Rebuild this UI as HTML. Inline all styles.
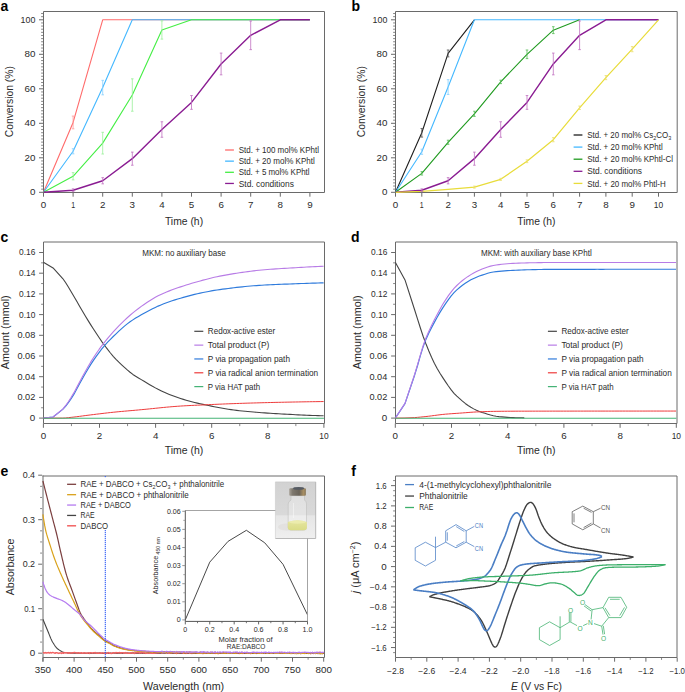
<!DOCTYPE html>
<html><head><meta charset="utf-8"><style>
html,body{margin:0;padding:0;background:#fff;}
svg{display:block;}
text{font-family:"Liberation Sans", sans-serif;}
</style></head><body>
<svg width="685" height="692" viewBox="0 0 685 692" font-family='"Liberation Sans", sans-serif'>
<rect width="685" height="692" fill="#fff"/>
<path d="M43.5,192.5 V11.5 H324.5 V192.5 H43.5" fill="none" stroke="#6a6a6a" stroke-width="1"/>
<polyline points="43.5,192.3 73.1,122.44 102.7,19.8 309.9,19.8" fill="none" stroke="#ff6b6b" stroke-width="1.1" stroke-linejoin="round" stroke-linecap="butt" />
<polyline points="43.5,192.3 73.1,151.25 102.7,87.59 132.3,19.8 309.9,19.8" fill="none" stroke="#44b8ff" stroke-width="1.1" stroke-linejoin="round" stroke-linecap="butt" />
<polyline points="43.5,192.3 73.1,176.26 102.7,143.14 132.3,95.01 161.9,29.98 191.5,19.8 309.9,19.8" fill="none" stroke="#44ee44" stroke-width="1.1" stroke-linejoin="round" stroke-linecap="butt" />
<polyline points="43.5,192.3 73.1,190.23 102.7,180.74 132.3,158.66 161.9,129.51 191.5,102.43 221.1,63.96 250.7,35.33 280.3,19.8 309.9,19.8" fill="none" stroke="#8a1c92" stroke-width="1.4" stroke-linejoin="round" stroke-linecap="butt" />
<line x1="73.1" y1="116.06" x2="73.1" y2="128.82" stroke="#ff9a9a" stroke-width="0.8" />
<line x1="71.8" y1="116.06" x2="74.4" y2="116.06" stroke="#ff9a9a" stroke-width="0.8" />
<line x1="71.8" y1="128.82" x2="74.4" y2="128.82" stroke="#ff9a9a" stroke-width="0.8" />
<line x1="73.1" y1="148.66" x2="73.1" y2="153.83" stroke="#88d0ff" stroke-width="0.8" />
<line x1="71.8" y1="148.66" x2="74.4" y2="148.66" stroke="#88d0ff" stroke-width="0.8" />
<line x1="71.8" y1="153.83" x2="74.4" y2="153.83" stroke="#88d0ff" stroke-width="0.8" />
<line x1="102.7" y1="80.35" x2="102.7" y2="94.84" stroke="#88d0ff" stroke-width="0.8" />
<line x1="101.4" y1="80.35" x2="104" y2="80.35" stroke="#88d0ff" stroke-width="0.8" />
<line x1="101.4" y1="94.84" x2="104" y2="94.84" stroke="#88d0ff" stroke-width="0.8" />
<line x1="73.1" y1="172.64" x2="73.1" y2="179.88" stroke="#99f099" stroke-width="0.8" />
<line x1="71.8" y1="172.64" x2="74.4" y2="172.64" stroke="#99f099" stroke-width="0.8" />
<line x1="71.8" y1="179.88" x2="74.4" y2="179.88" stroke="#99f099" stroke-width="0.8" />
<line x1="102.7" y1="132.27" x2="102.7" y2="154" stroke="#99f099" stroke-width="0.8" />
<line x1="101.4" y1="132.27" x2="104" y2="132.27" stroke="#99f099" stroke-width="0.8" />
<line x1="101.4" y1="154" x2="104" y2="154" stroke="#99f099" stroke-width="0.8" />
<line x1="132.3" y1="78.8" x2="132.3" y2="111.23" stroke="#99f099" stroke-width="0.8" />
<line x1="131" y1="78.8" x2="133.6" y2="78.8" stroke="#99f099" stroke-width="0.8" />
<line x1="131" y1="111.23" x2="133.6" y2="111.23" stroke="#99f099" stroke-width="0.8" />
<line x1="161.9" y1="20.84" x2="161.9" y2="39.12" stroke="#99f099" stroke-width="0.8" />
<line x1="160.6" y1="20.84" x2="163.2" y2="20.84" stroke="#99f099" stroke-width="0.8" />
<line x1="160.6" y1="39.12" x2="163.2" y2="39.12" stroke="#99f099" stroke-width="0.8" />
<line x1="73.1" y1="188.85" x2="73.1" y2="191.61" stroke="#c070c0" stroke-width="0.8" />
<line x1="71.8" y1="188.85" x2="74.4" y2="188.85" stroke="#c070c0" stroke-width="0.8" />
<line x1="71.8" y1="191.61" x2="74.4" y2="191.61" stroke="#c070c0" stroke-width="0.8" />
<line x1="102.7" y1="177.64" x2="102.7" y2="183.85" stroke="#c070c0" stroke-width="0.8" />
<line x1="101.4" y1="177.64" x2="104" y2="177.64" stroke="#c070c0" stroke-width="0.8" />
<line x1="101.4" y1="183.85" x2="104" y2="183.85" stroke="#c070c0" stroke-width="0.8" />
<line x1="132.3" y1="152.11" x2="132.3" y2="165.22" stroke="#c070c0" stroke-width="0.8" />
<line x1="131" y1="152.11" x2="133.6" y2="152.11" stroke="#c070c0" stroke-width="0.8" />
<line x1="131" y1="165.22" x2="133.6" y2="165.22" stroke="#c070c0" stroke-width="0.8" />
<line x1="161.9" y1="121.75" x2="161.9" y2="137.27" stroke="#c070c0" stroke-width="0.8" />
<line x1="160.6" y1="121.75" x2="163.2" y2="121.75" stroke="#c070c0" stroke-width="0.8" />
<line x1="160.6" y1="137.27" x2="163.2" y2="137.27" stroke="#c070c0" stroke-width="0.8" />
<line x1="191.5" y1="95.53" x2="191.5" y2="109.33" stroke="#c070c0" stroke-width="0.8" />
<line x1="190.2" y1="95.53" x2="192.8" y2="95.53" stroke="#c070c0" stroke-width="0.8" />
<line x1="190.2" y1="109.33" x2="192.8" y2="109.33" stroke="#c070c0" stroke-width="0.8" />
<line x1="221.1" y1="53.09" x2="221.1" y2="74.83" stroke="#c070c0" stroke-width="0.8" />
<line x1="219.8" y1="53.09" x2="222.4" y2="53.09" stroke="#c070c0" stroke-width="0.8" />
<line x1="219.8" y1="74.83" x2="222.4" y2="74.83" stroke="#c070c0" stroke-width="0.8" />
<line x1="250.7" y1="21.01" x2="250.7" y2="49.64" stroke="#c070c0" stroke-width="0.8" />
<line x1="249.4" y1="21.01" x2="252" y2="21.01" stroke="#c070c0" stroke-width="0.8" />
<line x1="249.4" y1="49.64" x2="252" y2="49.64" stroke="#c070c0" stroke-width="0.8" />
<line x1="39" y1="192.3" x2="43.5" y2="192.3" stroke="#6a6a6a" stroke-width="1" />
<text x="35.4" y="195.25" font-size="8.2" text-anchor="end" fill="#2b2b2b" textLength="5.45" lengthAdjust="spacingAndGlyphs">0</text>
<line x1="39" y1="157.8" x2="43.5" y2="157.8" stroke="#6a6a6a" stroke-width="1" />
<text x="35.4" y="160.75" font-size="8.2" text-anchor="end" fill="#2b2b2b" textLength="10.9" lengthAdjust="spacingAndGlyphs">20</text>
<line x1="39" y1="123.3" x2="43.5" y2="123.3" stroke="#6a6a6a" stroke-width="1" />
<text x="35.4" y="126.25" font-size="8.2" text-anchor="end" fill="#2b2b2b" textLength="10.9" lengthAdjust="spacingAndGlyphs">40</text>
<line x1="39" y1="88.8" x2="43.5" y2="88.8" stroke="#6a6a6a" stroke-width="1" />
<text x="35.4" y="91.75" font-size="8.2" text-anchor="end" fill="#2b2b2b" textLength="10.9" lengthAdjust="spacingAndGlyphs">60</text>
<line x1="39" y1="54.3" x2="43.5" y2="54.3" stroke="#6a6a6a" stroke-width="1" />
<text x="35.4" y="57.25" font-size="8.2" text-anchor="end" fill="#2b2b2b" textLength="10.9" lengthAdjust="spacingAndGlyphs">80</text>
<line x1="39" y1="19.8" x2="43.5" y2="19.8" stroke="#6a6a6a" stroke-width="1" />
<text x="35.4" y="22.75" font-size="8.2" text-anchor="end" fill="#2b2b2b" textLength="14.8" lengthAdjust="spacingAndGlyphs">100</text>
<line x1="41.1" y1="189.16" x2="43.5" y2="189.16" stroke="#6a6a6a" stroke-width="0.8" />
<line x1="41.1" y1="186.03" x2="43.5" y2="186.03" stroke="#6a6a6a" stroke-width="0.8" />
<line x1="41.1" y1="182.89" x2="43.5" y2="182.89" stroke="#6a6a6a" stroke-width="0.8" />
<line x1="41.1" y1="179.75" x2="43.5" y2="179.75" stroke="#6a6a6a" stroke-width="0.8" />
<line x1="41.1" y1="176.62" x2="43.5" y2="176.62" stroke="#6a6a6a" stroke-width="0.8" />
<line x1="41.1" y1="173.48" x2="43.5" y2="173.48" stroke="#6a6a6a" stroke-width="0.8" />
<line x1="41.1" y1="170.35" x2="43.5" y2="170.35" stroke="#6a6a6a" stroke-width="0.8" />
<line x1="41.1" y1="167.21" x2="43.5" y2="167.21" stroke="#6a6a6a" stroke-width="0.8" />
<line x1="41.1" y1="164.07" x2="43.5" y2="164.07" stroke="#6a6a6a" stroke-width="0.8" />
<line x1="41.1" y1="160.94" x2="43.5" y2="160.94" stroke="#6a6a6a" stroke-width="0.8" />
<line x1="41.1" y1="154.66" x2="43.5" y2="154.66" stroke="#6a6a6a" stroke-width="0.8" />
<line x1="41.1" y1="151.53" x2="43.5" y2="151.53" stroke="#6a6a6a" stroke-width="0.8" />
<line x1="41.1" y1="148.39" x2="43.5" y2="148.39" stroke="#6a6a6a" stroke-width="0.8" />
<line x1="41.1" y1="145.25" x2="43.5" y2="145.25" stroke="#6a6a6a" stroke-width="0.8" />
<line x1="41.1" y1="142.12" x2="43.5" y2="142.12" stroke="#6a6a6a" stroke-width="0.8" />
<line x1="41.1" y1="138.98" x2="43.5" y2="138.98" stroke="#6a6a6a" stroke-width="0.8" />
<line x1="41.1" y1="135.85" x2="43.5" y2="135.85" stroke="#6a6a6a" stroke-width="0.8" />
<line x1="41.1" y1="132.71" x2="43.5" y2="132.71" stroke="#6a6a6a" stroke-width="0.8" />
<line x1="41.1" y1="129.57" x2="43.5" y2="129.57" stroke="#6a6a6a" stroke-width="0.8" />
<line x1="41.1" y1="126.44" x2="43.5" y2="126.44" stroke="#6a6a6a" stroke-width="0.8" />
<line x1="41.1" y1="120.16" x2="43.5" y2="120.16" stroke="#6a6a6a" stroke-width="0.8" />
<line x1="41.1" y1="117.03" x2="43.5" y2="117.03" stroke="#6a6a6a" stroke-width="0.8" />
<line x1="41.1" y1="113.89" x2="43.5" y2="113.89" stroke="#6a6a6a" stroke-width="0.8" />
<line x1="41.1" y1="110.75" x2="43.5" y2="110.75" stroke="#6a6a6a" stroke-width="0.8" />
<line x1="41.1" y1="107.62" x2="43.5" y2="107.62" stroke="#6a6a6a" stroke-width="0.8" />
<line x1="41.1" y1="104.48" x2="43.5" y2="104.48" stroke="#6a6a6a" stroke-width="0.8" />
<line x1="41.1" y1="101.35" x2="43.5" y2="101.35" stroke="#6a6a6a" stroke-width="0.8" />
<line x1="41.1" y1="98.21" x2="43.5" y2="98.21" stroke="#6a6a6a" stroke-width="0.8" />
<line x1="41.1" y1="95.07" x2="43.5" y2="95.07" stroke="#6a6a6a" stroke-width="0.8" />
<line x1="41.1" y1="91.94" x2="43.5" y2="91.94" stroke="#6a6a6a" stroke-width="0.8" />
<line x1="41.1" y1="85.66" x2="43.5" y2="85.66" stroke="#6a6a6a" stroke-width="0.8" />
<line x1="41.1" y1="82.53" x2="43.5" y2="82.53" stroke="#6a6a6a" stroke-width="0.8" />
<line x1="41.1" y1="79.39" x2="43.5" y2="79.39" stroke="#6a6a6a" stroke-width="0.8" />
<line x1="41.1" y1="76.25" x2="43.5" y2="76.25" stroke="#6a6a6a" stroke-width="0.8" />
<line x1="41.1" y1="73.12" x2="43.5" y2="73.12" stroke="#6a6a6a" stroke-width="0.8" />
<line x1="41.1" y1="69.98" x2="43.5" y2="69.98" stroke="#6a6a6a" stroke-width="0.8" />
<line x1="41.1" y1="66.85" x2="43.5" y2="66.85" stroke="#6a6a6a" stroke-width="0.8" />
<line x1="41.1" y1="63.71" x2="43.5" y2="63.71" stroke="#6a6a6a" stroke-width="0.8" />
<line x1="41.1" y1="60.57" x2="43.5" y2="60.57" stroke="#6a6a6a" stroke-width="0.8" />
<line x1="41.1" y1="57.44" x2="43.5" y2="57.44" stroke="#6a6a6a" stroke-width="0.8" />
<line x1="41.1" y1="51.16" x2="43.5" y2="51.16" stroke="#6a6a6a" stroke-width="0.8" />
<line x1="41.1" y1="48.03" x2="43.5" y2="48.03" stroke="#6a6a6a" stroke-width="0.8" />
<line x1="41.1" y1="44.89" x2="43.5" y2="44.89" stroke="#6a6a6a" stroke-width="0.8" />
<line x1="41.1" y1="41.75" x2="43.5" y2="41.75" stroke="#6a6a6a" stroke-width="0.8" />
<line x1="41.1" y1="38.62" x2="43.5" y2="38.62" stroke="#6a6a6a" stroke-width="0.8" />
<line x1="41.1" y1="35.48" x2="43.5" y2="35.48" stroke="#6a6a6a" stroke-width="0.8" />
<line x1="41.1" y1="32.35" x2="43.5" y2="32.35" stroke="#6a6a6a" stroke-width="0.8" />
<line x1="41.1" y1="29.21" x2="43.5" y2="29.21" stroke="#6a6a6a" stroke-width="0.8" />
<line x1="41.1" y1="26.07" x2="43.5" y2="26.07" stroke="#6a6a6a" stroke-width="0.8" />
<line x1="41.1" y1="22.94" x2="43.5" y2="22.94" stroke="#6a6a6a" stroke-width="0.8" />
<line x1="41.1" y1="16.66" x2="43.5" y2="16.66" stroke="#6a6a6a" stroke-width="0.8" />
<line x1="41.1" y1="13.53" x2="43.5" y2="13.53" stroke="#6a6a6a" stroke-width="0.8" />
<line x1="43.5" y1="192.5" x2="43.5" y2="196.7" stroke="#6a6a6a" stroke-width="1" />
<text x="43.5" y="208.4" font-size="8.2" text-anchor="middle" fill="#2b2b2b" textLength="5.45" lengthAdjust="spacingAndGlyphs">0</text>
<line x1="73.1" y1="192.5" x2="73.1" y2="196.7" stroke="#6a6a6a" stroke-width="1" />
<text x="73.1" y="208.4" font-size="8.2" text-anchor="middle" fill="#2b2b2b" textLength="3.9" lengthAdjust="spacingAndGlyphs">1</text>
<line x1="102.7" y1="192.5" x2="102.7" y2="196.7" stroke="#6a6a6a" stroke-width="1" />
<text x="102.7" y="208.4" font-size="8.2" text-anchor="middle" fill="#2b2b2b" textLength="5.45" lengthAdjust="spacingAndGlyphs">2</text>
<line x1="132.3" y1="192.5" x2="132.3" y2="196.7" stroke="#6a6a6a" stroke-width="1" />
<text x="132.3" y="208.4" font-size="8.2" text-anchor="middle" fill="#2b2b2b" textLength="5.45" lengthAdjust="spacingAndGlyphs">3</text>
<line x1="161.9" y1="192.5" x2="161.9" y2="196.7" stroke="#6a6a6a" stroke-width="1" />
<text x="161.9" y="208.4" font-size="8.2" text-anchor="middle" fill="#2b2b2b" textLength="5.45" lengthAdjust="spacingAndGlyphs">4</text>
<line x1="191.5" y1="192.5" x2="191.5" y2="196.7" stroke="#6a6a6a" stroke-width="1" />
<text x="191.5" y="208.4" font-size="8.2" text-anchor="middle" fill="#2b2b2b" textLength="5.45" lengthAdjust="spacingAndGlyphs">5</text>
<line x1="221.1" y1="192.5" x2="221.1" y2="196.7" stroke="#6a6a6a" stroke-width="1" />
<text x="221.1" y="208.4" font-size="8.2" text-anchor="middle" fill="#2b2b2b" textLength="5.45" lengthAdjust="spacingAndGlyphs">6</text>
<line x1="250.7" y1="192.5" x2="250.7" y2="196.7" stroke="#6a6a6a" stroke-width="1" />
<text x="250.7" y="208.4" font-size="8.2" text-anchor="middle" fill="#2b2b2b" textLength="5.45" lengthAdjust="spacingAndGlyphs">7</text>
<line x1="280.3" y1="192.5" x2="280.3" y2="196.7" stroke="#6a6a6a" stroke-width="1" />
<text x="280.3" y="208.4" font-size="8.2" text-anchor="middle" fill="#2b2b2b" textLength="5.45" lengthAdjust="spacingAndGlyphs">8</text>
<line x1="309.9" y1="192.5" x2="309.9" y2="196.7" stroke="#6a6a6a" stroke-width="1" />
<text x="309.9" y="208.4" font-size="8.2" text-anchor="middle" fill="#2b2b2b" textLength="5.45" lengthAdjust="spacingAndGlyphs">9</text>
<text x="184" y="225" font-size="10.3" text-anchor="middle" fill="#2b2b2b" textLength="38.2" lengthAdjust="spacingAndGlyphs">Time (h)</text>
<text transform="translate(12.7,101.7) rotate(-90)" font-size="10.3" text-anchor="middle" fill="#2b2b2b" textLength="71.2" lengthAdjust="spacingAndGlyphs">Conversion (%)</text>
<line x1="225.1" y1="150" x2="233.9" y2="150" stroke="#ff6b6b" stroke-width="1.3" />
<text x="238.7" y="153.1" font-size="8.7" text-anchor="start" fill="#2b2b2b" textLength="80.3" lengthAdjust="spacingAndGlyphs">Std. + 100 mol% KPhtl</text>
<line x1="225.1" y1="161.15" x2="233.9" y2="161.15" stroke="#44b8ff" stroke-width="1.3" />
<text x="238.7" y="164.25" font-size="8.7" text-anchor="start" fill="#2b2b2b" textLength="76.1" lengthAdjust="spacingAndGlyphs">Std. + 20 mol% KPhtl</text>
<line x1="225.1" y1="172.3" x2="233.9" y2="172.3" stroke="#44ee44" stroke-width="1.3" />
<text x="238.7" y="175.4" font-size="8.7" text-anchor="start" fill="#2b2b2b" textLength="70.9" lengthAdjust="spacingAndGlyphs">Std. + 5 mol% KPhtl</text>
<line x1="225.1" y1="183.45" x2="233.9" y2="183.45" stroke="#8a1c92" stroke-width="1.3" />
<text x="238.7" y="186.55" font-size="8.7" text-anchor="start" fill="#2b2b2b" textLength="55.2" lengthAdjust="spacingAndGlyphs">Std. conditions</text>
<text x="0.5" y="11" font-size="14" text-anchor="start" fill="#000" font-weight="bold" >a</text>
<path d="M395.5,192.5 V11.5 H677.2 V192.5 H395.5" fill="none" stroke="#6a6a6a" stroke-width="1"/>
<polyline points="395.5,192.3 421.8,132.79 448.1,53.44 474.4,19.8" fill="none" stroke="#1e1e1e" stroke-width="1.1" stroke-linejoin="round" stroke-linecap="butt" />
<polyline points="395.5,192.3 421.8,151.76 448.1,87.08 474.4,19.8 658.5,19.8" fill="none" stroke="#44b8ff" stroke-width="1.1" stroke-linejoin="round" stroke-linecap="butt" />
<polyline points="395.5,192.3 421.8,173.33 448.1,142.28 474.4,113.81 500.7,81.9 527,54.3 553.3,30.15 579.6,19.8" fill="none" stroke="#1f9a1f" stroke-width="1.1" stroke-linejoin="round" stroke-linecap="butt" />
<polyline points="395.5,192.3 421.8,190.23 448.1,180.74 474.4,158.66 500.7,129.51 527,102.43 553.3,63.96 579.6,35.33 605.9,19.8 658.5,19.8" fill="none" stroke="#8a1c92" stroke-width="1.4" stroke-linejoin="round" stroke-linecap="butt" />
<polyline points="395.5,192.3 421.8,191.44 448.1,189.37 474.4,187.12 500.7,179.36 527,161.25 553.3,139.69 579.6,107.78 605.9,77.59 632.2,49.12 658.5,19.8" fill="none" stroke="#e8dc3a" stroke-width="1.2" stroke-linejoin="round" stroke-linecap="butt" />
<line x1="421.8" y1="128.48" x2="421.8" y2="137.1" stroke="#555" stroke-width="0.8" />
<line x1="420.5" y1="128.48" x2="423.1" y2="128.48" stroke="#555" stroke-width="0.8" />
<line x1="420.5" y1="137.1" x2="423.1" y2="137.1" stroke="#555" stroke-width="0.8" />
<line x1="448.1" y1="49.99" x2="448.1" y2="56.89" stroke="#555" stroke-width="0.8" />
<line x1="446.8" y1="49.99" x2="449.4" y2="49.99" stroke="#555" stroke-width="0.8" />
<line x1="446.8" y1="56.89" x2="449.4" y2="56.89" stroke="#555" stroke-width="0.8" />
<line x1="421.8" y1="149.18" x2="421.8" y2="154.35" stroke="#88d0ff" stroke-width="0.8" />
<line x1="420.5" y1="149.18" x2="423.1" y2="149.18" stroke="#88d0ff" stroke-width="0.8" />
<line x1="420.5" y1="154.35" x2="423.1" y2="154.35" stroke="#88d0ff" stroke-width="0.8" />
<line x1="448.1" y1="79.66" x2="448.1" y2="94.49" stroke="#88d0ff" stroke-width="0.8" />
<line x1="446.8" y1="79.66" x2="449.4" y2="79.66" stroke="#88d0ff" stroke-width="0.8" />
<line x1="446.8" y1="94.49" x2="449.4" y2="94.49" stroke="#88d0ff" stroke-width="0.8" />
<line x1="421.8" y1="171.6" x2="421.8" y2="175.05" stroke="#55bb55" stroke-width="0.8" />
<line x1="420.5" y1="171.6" x2="423.1" y2="171.6" stroke="#55bb55" stroke-width="0.8" />
<line x1="420.5" y1="175.05" x2="423.1" y2="175.05" stroke="#55bb55" stroke-width="0.8" />
<line x1="448.1" y1="140.21" x2="448.1" y2="144.34" stroke="#55bb55" stroke-width="0.8" />
<line x1="446.8" y1="140.21" x2="449.4" y2="140.21" stroke="#55bb55" stroke-width="0.8" />
<line x1="446.8" y1="144.34" x2="449.4" y2="144.34" stroke="#55bb55" stroke-width="0.8" />
<line x1="474.4" y1="111.23" x2="474.4" y2="116.4" stroke="#55bb55" stroke-width="0.8" />
<line x1="473.1" y1="111.23" x2="475.7" y2="111.23" stroke="#55bb55" stroke-width="0.8" />
<line x1="473.1" y1="116.4" x2="475.7" y2="116.4" stroke="#55bb55" stroke-width="0.8" />
<line x1="500.7" y1="80.18" x2="500.7" y2="83.62" stroke="#55bb55" stroke-width="0.8" />
<line x1="499.4" y1="80.18" x2="502" y2="80.18" stroke="#55bb55" stroke-width="0.8" />
<line x1="499.4" y1="83.62" x2="502" y2="83.62" stroke="#55bb55" stroke-width="0.8" />
<line x1="527" y1="49.99" x2="527" y2="58.61" stroke="#55bb55" stroke-width="0.8" />
<line x1="525.7" y1="49.99" x2="528.3" y2="49.99" stroke="#55bb55" stroke-width="0.8" />
<line x1="525.7" y1="58.61" x2="528.3" y2="58.61" stroke="#55bb55" stroke-width="0.8" />
<line x1="553.3" y1="26.7" x2="553.3" y2="33.6" stroke="#55bb55" stroke-width="0.8" />
<line x1="552" y1="26.7" x2="554.6" y2="26.7" stroke="#55bb55" stroke-width="0.8" />
<line x1="552" y1="33.6" x2="554.6" y2="33.6" stroke="#55bb55" stroke-width="0.8" />
<line x1="421.8" y1="188.85" x2="421.8" y2="191.61" stroke="#c070c0" stroke-width="0.8" />
<line x1="420.5" y1="188.85" x2="423.1" y2="188.85" stroke="#c070c0" stroke-width="0.8" />
<line x1="420.5" y1="191.61" x2="423.1" y2="191.61" stroke="#c070c0" stroke-width="0.8" />
<line x1="448.1" y1="177.64" x2="448.1" y2="183.85" stroke="#c070c0" stroke-width="0.8" />
<line x1="446.8" y1="177.64" x2="449.4" y2="177.64" stroke="#c070c0" stroke-width="0.8" />
<line x1="446.8" y1="183.85" x2="449.4" y2="183.85" stroke="#c070c0" stroke-width="0.8" />
<line x1="474.4" y1="152.11" x2="474.4" y2="165.22" stroke="#c070c0" stroke-width="0.8" />
<line x1="473.1" y1="152.11" x2="475.7" y2="152.11" stroke="#c070c0" stroke-width="0.8" />
<line x1="473.1" y1="165.22" x2="475.7" y2="165.22" stroke="#c070c0" stroke-width="0.8" />
<line x1="500.7" y1="121.75" x2="500.7" y2="137.27" stroke="#c070c0" stroke-width="0.8" />
<line x1="499.4" y1="121.75" x2="502" y2="121.75" stroke="#c070c0" stroke-width="0.8" />
<line x1="499.4" y1="137.27" x2="502" y2="137.27" stroke="#c070c0" stroke-width="0.8" />
<line x1="527" y1="95.53" x2="527" y2="109.33" stroke="#c070c0" stroke-width="0.8" />
<line x1="525.7" y1="95.53" x2="528.3" y2="95.53" stroke="#c070c0" stroke-width="0.8" />
<line x1="525.7" y1="109.33" x2="528.3" y2="109.33" stroke="#c070c0" stroke-width="0.8" />
<line x1="553.3" y1="53.09" x2="553.3" y2="74.83" stroke="#c070c0" stroke-width="0.8" />
<line x1="552" y1="53.09" x2="554.6" y2="53.09" stroke="#c070c0" stroke-width="0.8" />
<line x1="552" y1="74.83" x2="554.6" y2="74.83" stroke="#c070c0" stroke-width="0.8" />
<line x1="579.6" y1="21.01" x2="579.6" y2="49.64" stroke="#c070c0" stroke-width="0.8" />
<line x1="578.3" y1="21.01" x2="580.9" y2="21.01" stroke="#c070c0" stroke-width="0.8" />
<line x1="578.3" y1="49.64" x2="580.9" y2="49.64" stroke="#c070c0" stroke-width="0.8" />
<line x1="474.4" y1="186.09" x2="474.4" y2="188.16" stroke="#ece070" stroke-width="0.8" />
<line x1="473.1" y1="186.09" x2="475.7" y2="186.09" stroke="#ece070" stroke-width="0.8" />
<line x1="473.1" y1="188.16" x2="475.7" y2="188.16" stroke="#ece070" stroke-width="0.8" />
<line x1="500.7" y1="178.33" x2="500.7" y2="180.4" stroke="#ece070" stroke-width="0.8" />
<line x1="499.4" y1="178.33" x2="502" y2="178.33" stroke="#ece070" stroke-width="0.8" />
<line x1="499.4" y1="180.4" x2="502" y2="180.4" stroke="#ece070" stroke-width="0.8" />
<line x1="527" y1="159.87" x2="527" y2="162.63" stroke="#ece070" stroke-width="0.8" />
<line x1="525.7" y1="159.87" x2="528.3" y2="159.87" stroke="#ece070" stroke-width="0.8" />
<line x1="525.7" y1="162.63" x2="528.3" y2="162.63" stroke="#ece070" stroke-width="0.8" />
<line x1="553.3" y1="137.62" x2="553.3" y2="141.76" stroke="#ece070" stroke-width="0.8" />
<line x1="552" y1="137.62" x2="554.6" y2="137.62" stroke="#ece070" stroke-width="0.8" />
<line x1="552" y1="141.76" x2="554.6" y2="141.76" stroke="#ece070" stroke-width="0.8" />
<line x1="579.6" y1="106.05" x2="579.6" y2="109.5" stroke="#ece070" stroke-width="0.8" />
<line x1="578.3" y1="106.05" x2="580.9" y2="106.05" stroke="#ece070" stroke-width="0.8" />
<line x1="578.3" y1="109.5" x2="580.9" y2="109.5" stroke="#ece070" stroke-width="0.8" />
<line x1="605.9" y1="75.52" x2="605.9" y2="79.66" stroke="#ece070" stroke-width="0.8" />
<line x1="604.6" y1="75.52" x2="607.2" y2="75.52" stroke="#ece070" stroke-width="0.8" />
<line x1="604.6" y1="79.66" x2="607.2" y2="79.66" stroke="#ece070" stroke-width="0.8" />
<line x1="632.2" y1="46.54" x2="632.2" y2="51.71" stroke="#ece070" stroke-width="0.8" />
<line x1="630.9" y1="46.54" x2="633.5" y2="46.54" stroke="#ece070" stroke-width="0.8" />
<line x1="630.9" y1="51.71" x2="633.5" y2="51.71" stroke="#ece070" stroke-width="0.8" />
<line x1="391" y1="192.3" x2="395.5" y2="192.3" stroke="#6a6a6a" stroke-width="1" />
<text x="387.4" y="195.25" font-size="8.2" text-anchor="end" fill="#2b2b2b" textLength="5.45" lengthAdjust="spacingAndGlyphs">0</text>
<line x1="391" y1="157.8" x2="395.5" y2="157.8" stroke="#6a6a6a" stroke-width="1" />
<text x="387.4" y="160.75" font-size="8.2" text-anchor="end" fill="#2b2b2b" textLength="10.9" lengthAdjust="spacingAndGlyphs">20</text>
<line x1="391" y1="123.3" x2="395.5" y2="123.3" stroke="#6a6a6a" stroke-width="1" />
<text x="387.4" y="126.25" font-size="8.2" text-anchor="end" fill="#2b2b2b" textLength="10.9" lengthAdjust="spacingAndGlyphs">40</text>
<line x1="391" y1="88.8" x2="395.5" y2="88.8" stroke="#6a6a6a" stroke-width="1" />
<text x="387.4" y="91.75" font-size="8.2" text-anchor="end" fill="#2b2b2b" textLength="10.9" lengthAdjust="spacingAndGlyphs">60</text>
<line x1="391" y1="54.3" x2="395.5" y2="54.3" stroke="#6a6a6a" stroke-width="1" />
<text x="387.4" y="57.25" font-size="8.2" text-anchor="end" fill="#2b2b2b" textLength="10.9" lengthAdjust="spacingAndGlyphs">80</text>
<line x1="391" y1="19.8" x2="395.5" y2="19.8" stroke="#6a6a6a" stroke-width="1" />
<text x="387.4" y="22.75" font-size="8.2" text-anchor="end" fill="#2b2b2b" textLength="14.8" lengthAdjust="spacingAndGlyphs">100</text>
<line x1="393.1" y1="189.16" x2="395.5" y2="189.16" stroke="#6a6a6a" stroke-width="0.8" />
<line x1="393.1" y1="186.03" x2="395.5" y2="186.03" stroke="#6a6a6a" stroke-width="0.8" />
<line x1="393.1" y1="182.89" x2="395.5" y2="182.89" stroke="#6a6a6a" stroke-width="0.8" />
<line x1="393.1" y1="179.75" x2="395.5" y2="179.75" stroke="#6a6a6a" stroke-width="0.8" />
<line x1="393.1" y1="176.62" x2="395.5" y2="176.62" stroke="#6a6a6a" stroke-width="0.8" />
<line x1="393.1" y1="173.48" x2="395.5" y2="173.48" stroke="#6a6a6a" stroke-width="0.8" />
<line x1="393.1" y1="170.35" x2="395.5" y2="170.35" stroke="#6a6a6a" stroke-width="0.8" />
<line x1="393.1" y1="167.21" x2="395.5" y2="167.21" stroke="#6a6a6a" stroke-width="0.8" />
<line x1="393.1" y1="164.07" x2="395.5" y2="164.07" stroke="#6a6a6a" stroke-width="0.8" />
<line x1="393.1" y1="160.94" x2="395.5" y2="160.94" stroke="#6a6a6a" stroke-width="0.8" />
<line x1="393.1" y1="154.66" x2="395.5" y2="154.66" stroke="#6a6a6a" stroke-width="0.8" />
<line x1="393.1" y1="151.53" x2="395.5" y2="151.53" stroke="#6a6a6a" stroke-width="0.8" />
<line x1="393.1" y1="148.39" x2="395.5" y2="148.39" stroke="#6a6a6a" stroke-width="0.8" />
<line x1="393.1" y1="145.25" x2="395.5" y2="145.25" stroke="#6a6a6a" stroke-width="0.8" />
<line x1="393.1" y1="142.12" x2="395.5" y2="142.12" stroke="#6a6a6a" stroke-width="0.8" />
<line x1="393.1" y1="138.98" x2="395.5" y2="138.98" stroke="#6a6a6a" stroke-width="0.8" />
<line x1="393.1" y1="135.85" x2="395.5" y2="135.85" stroke="#6a6a6a" stroke-width="0.8" />
<line x1="393.1" y1="132.71" x2="395.5" y2="132.71" stroke="#6a6a6a" stroke-width="0.8" />
<line x1="393.1" y1="129.57" x2="395.5" y2="129.57" stroke="#6a6a6a" stroke-width="0.8" />
<line x1="393.1" y1="126.44" x2="395.5" y2="126.44" stroke="#6a6a6a" stroke-width="0.8" />
<line x1="393.1" y1="120.16" x2="395.5" y2="120.16" stroke="#6a6a6a" stroke-width="0.8" />
<line x1="393.1" y1="117.03" x2="395.5" y2="117.03" stroke="#6a6a6a" stroke-width="0.8" />
<line x1="393.1" y1="113.89" x2="395.5" y2="113.89" stroke="#6a6a6a" stroke-width="0.8" />
<line x1="393.1" y1="110.75" x2="395.5" y2="110.75" stroke="#6a6a6a" stroke-width="0.8" />
<line x1="393.1" y1="107.62" x2="395.5" y2="107.62" stroke="#6a6a6a" stroke-width="0.8" />
<line x1="393.1" y1="104.48" x2="395.5" y2="104.48" stroke="#6a6a6a" stroke-width="0.8" />
<line x1="393.1" y1="101.35" x2="395.5" y2="101.35" stroke="#6a6a6a" stroke-width="0.8" />
<line x1="393.1" y1="98.21" x2="395.5" y2="98.21" stroke="#6a6a6a" stroke-width="0.8" />
<line x1="393.1" y1="95.07" x2="395.5" y2="95.07" stroke="#6a6a6a" stroke-width="0.8" />
<line x1="393.1" y1="91.94" x2="395.5" y2="91.94" stroke="#6a6a6a" stroke-width="0.8" />
<line x1="393.1" y1="85.66" x2="395.5" y2="85.66" stroke="#6a6a6a" stroke-width="0.8" />
<line x1="393.1" y1="82.53" x2="395.5" y2="82.53" stroke="#6a6a6a" stroke-width="0.8" />
<line x1="393.1" y1="79.39" x2="395.5" y2="79.39" stroke="#6a6a6a" stroke-width="0.8" />
<line x1="393.1" y1="76.25" x2="395.5" y2="76.25" stroke="#6a6a6a" stroke-width="0.8" />
<line x1="393.1" y1="73.12" x2="395.5" y2="73.12" stroke="#6a6a6a" stroke-width="0.8" />
<line x1="393.1" y1="69.98" x2="395.5" y2="69.98" stroke="#6a6a6a" stroke-width="0.8" />
<line x1="393.1" y1="66.85" x2="395.5" y2="66.85" stroke="#6a6a6a" stroke-width="0.8" />
<line x1="393.1" y1="63.71" x2="395.5" y2="63.71" stroke="#6a6a6a" stroke-width="0.8" />
<line x1="393.1" y1="60.57" x2="395.5" y2="60.57" stroke="#6a6a6a" stroke-width="0.8" />
<line x1="393.1" y1="57.44" x2="395.5" y2="57.44" stroke="#6a6a6a" stroke-width="0.8" />
<line x1="393.1" y1="51.16" x2="395.5" y2="51.16" stroke="#6a6a6a" stroke-width="0.8" />
<line x1="393.1" y1="48.03" x2="395.5" y2="48.03" stroke="#6a6a6a" stroke-width="0.8" />
<line x1="393.1" y1="44.89" x2="395.5" y2="44.89" stroke="#6a6a6a" stroke-width="0.8" />
<line x1="393.1" y1="41.75" x2="395.5" y2="41.75" stroke="#6a6a6a" stroke-width="0.8" />
<line x1="393.1" y1="38.62" x2="395.5" y2="38.62" stroke="#6a6a6a" stroke-width="0.8" />
<line x1="393.1" y1="35.48" x2="395.5" y2="35.48" stroke="#6a6a6a" stroke-width="0.8" />
<line x1="393.1" y1="32.35" x2="395.5" y2="32.35" stroke="#6a6a6a" stroke-width="0.8" />
<line x1="393.1" y1="29.21" x2="395.5" y2="29.21" stroke="#6a6a6a" stroke-width="0.8" />
<line x1="393.1" y1="26.07" x2="395.5" y2="26.07" stroke="#6a6a6a" stroke-width="0.8" />
<line x1="393.1" y1="22.94" x2="395.5" y2="22.94" stroke="#6a6a6a" stroke-width="0.8" />
<line x1="393.1" y1="16.66" x2="395.5" y2="16.66" stroke="#6a6a6a" stroke-width="0.8" />
<line x1="393.1" y1="13.53" x2="395.5" y2="13.53" stroke="#6a6a6a" stroke-width="0.8" />
<line x1="395.5" y1="192.5" x2="395.5" y2="196.7" stroke="#6a6a6a" stroke-width="1" />
<text x="395.5" y="208.4" font-size="8.2" text-anchor="middle" fill="#2b2b2b" textLength="5.45" lengthAdjust="spacingAndGlyphs">0</text>
<line x1="421.8" y1="192.5" x2="421.8" y2="196.7" stroke="#6a6a6a" stroke-width="1" />
<text x="421.8" y="208.4" font-size="8.2" text-anchor="middle" fill="#2b2b2b" textLength="3.9" lengthAdjust="spacingAndGlyphs">1</text>
<line x1="448.1" y1="192.5" x2="448.1" y2="196.7" stroke="#6a6a6a" stroke-width="1" />
<text x="448.1" y="208.4" font-size="8.2" text-anchor="middle" fill="#2b2b2b" textLength="5.45" lengthAdjust="spacingAndGlyphs">2</text>
<line x1="474.4" y1="192.5" x2="474.4" y2="196.7" stroke="#6a6a6a" stroke-width="1" />
<text x="474.4" y="208.4" font-size="8.2" text-anchor="middle" fill="#2b2b2b" textLength="5.45" lengthAdjust="spacingAndGlyphs">3</text>
<line x1="500.7" y1="192.5" x2="500.7" y2="196.7" stroke="#6a6a6a" stroke-width="1" />
<text x="500.7" y="208.4" font-size="8.2" text-anchor="middle" fill="#2b2b2b" textLength="5.45" lengthAdjust="spacingAndGlyphs">4</text>
<line x1="527" y1="192.5" x2="527" y2="196.7" stroke="#6a6a6a" stroke-width="1" />
<text x="527" y="208.4" font-size="8.2" text-anchor="middle" fill="#2b2b2b" textLength="5.45" lengthAdjust="spacingAndGlyphs">5</text>
<line x1="553.3" y1="192.5" x2="553.3" y2="196.7" stroke="#6a6a6a" stroke-width="1" />
<text x="553.3" y="208.4" font-size="8.2" text-anchor="middle" fill="#2b2b2b" textLength="5.45" lengthAdjust="spacingAndGlyphs">6</text>
<line x1="579.6" y1="192.5" x2="579.6" y2="196.7" stroke="#6a6a6a" stroke-width="1" />
<text x="579.6" y="208.4" font-size="8.2" text-anchor="middle" fill="#2b2b2b" textLength="5.45" lengthAdjust="spacingAndGlyphs">7</text>
<line x1="605.9" y1="192.5" x2="605.9" y2="196.7" stroke="#6a6a6a" stroke-width="1" />
<text x="605.9" y="208.4" font-size="8.2" text-anchor="middle" fill="#2b2b2b" textLength="5.45" lengthAdjust="spacingAndGlyphs">8</text>
<line x1="632.2" y1="192.5" x2="632.2" y2="196.7" stroke="#6a6a6a" stroke-width="1" />
<text x="632.2" y="208.4" font-size="8.2" text-anchor="middle" fill="#2b2b2b" textLength="5.45" lengthAdjust="spacingAndGlyphs">9</text>
<line x1="658.5" y1="192.5" x2="658.5" y2="196.7" stroke="#6a6a6a" stroke-width="1" />
<text x="658.5" y="208.4" font-size="8.2" text-anchor="middle" fill="#2b2b2b" textLength="9.35" lengthAdjust="spacingAndGlyphs">10</text>
<text x="536.35" y="225" font-size="10.3" text-anchor="middle" fill="#2b2b2b" textLength="38.2" lengthAdjust="spacingAndGlyphs">Time (h)</text>
<text transform="translate(364.7,101.7) rotate(-90)" font-size="10.3" text-anchor="middle" fill="#2b2b2b" textLength="71.2" lengthAdjust="spacingAndGlyphs">Conversion (%)</text>
<line x1="573.6" y1="135" x2="582.4" y2="135" stroke="#1e1e1e" stroke-width="1.3" />
<text x="587.2" y="138.1" font-size="8.7" text-anchor="start" fill="#2b2b2b" textLength="84" lengthAdjust="spacingAndGlyphs">Std. + 20 mol% Cs<tspan font-size="6" dy="2">2</tspan><tspan dy="-2">CO</tspan><tspan font-size="6" dy="2">3</tspan></text>
<line x1="573.6" y1="147.1" x2="582.4" y2="147.1" stroke="#44b8ff" stroke-width="1.3" />
<text x="587.2" y="150.2" font-size="8.7" text-anchor="start" fill="#2b2b2b" textLength="75.6" lengthAdjust="spacingAndGlyphs">Std. + 20 mol% KPhtl</text>
<line x1="573.6" y1="159.2" x2="582.4" y2="159.2" stroke="#1f9a1f" stroke-width="1.3" />
<text x="587.2" y="162.3" font-size="8.7" text-anchor="start" fill="#2b2b2b" textLength="85.8" lengthAdjust="spacingAndGlyphs">Std. + 20 mol% KPhtl-Cl</text>
<line x1="573.6" y1="171.3" x2="582.4" y2="171.3" stroke="#8a1c92" stroke-width="1.3" />
<text x="587.2" y="174.4" font-size="8.7" text-anchor="start" fill="#2b2b2b" textLength="54.8" lengthAdjust="spacingAndGlyphs">Std. conditions</text>
<line x1="573.6" y1="183.4" x2="582.4" y2="183.4" stroke="#e8dc3a" stroke-width="1.3" />
<text x="587.2" y="186.5" font-size="8.7" text-anchor="start" fill="#2b2b2b" textLength="78.5" lengthAdjust="spacingAndGlyphs">Std. + 20 mol% Phtl-H</text>
<text x="351.6" y="11" font-size="14" text-anchor="start" fill="#000" font-weight="bold" >b</text>
<path d="M43.5,242 H324.5 V423.5 H43.5 Z" fill="none" stroke="#6a6a6a" stroke-width="1"/>
<polyline points="43.4,262.33 53.07,267.92 62.74,278.54 65.55,282.55 68.35,287.06 71.16,291.74 73.96,296.45 76.77,301.35 79.57,306.28 82.38,311.08 85.18,315.76 87.99,320.36 90.79,324.85 93.6,329.24 96.4,333.57 99.21,337.8 102.01,341.87 104.82,345.74 107.62,349.45 110.43,352.99 113.23,356.29 116.04,359.33 118.84,362.17 121.65,364.85 124.45,367.41 127.26,369.91 130.06,372.27 132.87,374.43 135.67,376.3 138.48,377.98 141.28,379.64 144.09,381.33 146.89,383.02 149.7,384.69 152.5,386.32 155.31,387.87 158.11,389.34 160.92,390.69 163.72,391.98 166.53,393.21 169.33,394.39 172.14,395.52 174.94,396.58 177.75,397.58 180.55,398.51 183.36,399.38 186.16,400.21 188.97,401 191.77,401.75 194.58,402.46 197.38,403.12 200.19,403.75 202.99,404.36 205.8,404.97 208.6,405.56 211.41,406.14 214.21,406.7 217.02,407.25 219.82,407.78 222.63,408.28 225.43,408.76 228.24,409.22 231.04,409.64 233.85,410.04 236.65,410.4 239.46,410.72 242.26,411.01 245.07,411.29 247.87,411.56 250.68,411.81 253.48,412.05 256.29,412.28 259.09,412.5 261.9,412.71 264.7,412.9 267.51,413.09 270.31,413.28 273.12,413.45 275.92,413.62 278.73,413.78 281.53,413.94 284.34,414.1 287.14,414.25 289.95,414.4 292.75,414.55 295.56,414.69 298.36,414.83 301.17,414.96 303.97,415.09 306.78,415.21 309.58,415.33 312.39,415.44 315.19,415.54 318,415.64 320.8,415.73 323.61,415.81" fill="none" stroke="#444444" stroke-width="1.1" stroke-linejoin="round" stroke-linecap="butt" />
<polyline points="43.4,418.1 53.07,417 62.74,409.38 65.55,406.29 68.35,402.64 71.16,398.61 73.96,394.16 76.77,389.08 79.57,383.79 82.38,378.74 85.18,373.8 87.99,368.94 90.79,364.35 93.6,360.12 96.4,356.1 99.21,352.29 102.01,348.68 104.82,345.29 107.62,342.18 110.43,339.31 113.23,336.53 116.04,333.79 118.84,331.13 121.65,328.57 124.45,326.14 127.26,323.87 130.06,321.79 132.87,319.88 135.67,318.09 138.48,316.41 141.28,314.81 144.09,313.27 146.89,311.78 149.7,310.3 152.5,308.84 155.31,307.42 158.11,306.1 160.92,304.91 163.72,303.8 166.53,302.76 169.33,301.76 172.14,300.81 174.94,299.9 177.75,299.03 180.55,298.19 183.36,297.37 186.16,296.59 188.97,295.83 191.77,295.1 194.58,294.41 197.38,293.75 200.19,293.14 202.99,292.55 205.8,291.98 208.6,291.44 211.41,290.92 214.21,290.44 217.02,289.99 219.82,289.58 222.63,289.19 225.43,288.82 228.24,288.45 231.04,288.1 233.85,287.76 236.65,287.43 239.46,287.11 242.26,286.81 245.07,286.52 247.87,286.25 250.68,286 253.48,285.77 256.29,285.56 259.09,285.37 261.9,285.2 264.7,285.04 267.51,284.89 270.31,284.76 273.12,284.63 275.92,284.51 278.73,284.4 281.53,284.29 284.34,284.18 287.14,284.07 289.95,283.96 292.75,283.86 295.56,283.75 298.36,283.65 301.17,283.55 303.97,283.45 306.78,283.35 309.58,283.26 312.39,283.17 315.19,283.08 318,282.99 320.8,282.91 323.61,282.83" fill="none" stroke="#2f7bdc" stroke-width="1.15" stroke-linejoin="round" stroke-linecap="butt" />
<polyline points="43.4,418.1 53.07,418.1 62.74,418.1 65.55,417.97 68.35,417.68 71.16,417.35 73.96,417.05 76.77,416.71 79.57,416.35 82.38,415.98 85.18,415.6 87.99,415.24 90.79,414.89 93.6,414.55 96.4,414.2 99.21,413.86 102.01,413.52 104.82,413.19 107.62,412.87 110.43,412.56 113.23,412.26 116.04,411.98 118.84,411.7 121.65,411.44 124.45,411.19 127.26,410.94 130.06,410.7 132.87,410.46 135.67,410.21 138.48,409.96 141.28,409.7 144.09,409.43 146.89,409.16 149.7,408.87 152.5,408.59 155.31,408.3 158.11,408.01 160.92,407.73 163.72,407.45 166.53,407.18 169.33,406.93 172.14,406.68 174.94,406.46 177.75,406.25 180.55,406.06 183.36,405.89 186.16,405.73 188.97,405.58 191.77,405.45 194.58,405.31 197.38,405.18 200.19,405.05 202.99,404.92 205.8,404.79 208.6,404.66 211.41,404.53 214.21,404.41 217.02,404.29 219.82,404.16 222.63,404.05 225.43,403.93 228.24,403.82 231.04,403.71 233.85,403.61 236.65,403.51 239.46,403.41 242.26,403.32 245.07,403.23 247.87,403.14 250.68,403.06 253.48,402.98 256.29,402.9 259.09,402.82 261.9,402.74 264.7,402.67 267.51,402.6 270.31,402.53 273.12,402.46 275.92,402.39 278.73,402.33 281.53,402.27 284.34,402.21 287.14,402.15 289.95,402.1 292.75,402.04 295.56,401.99 298.36,401.94 301.17,401.89 303.97,401.84 306.78,401.79 309.58,401.74 312.39,401.7 315.19,401.66 318,401.62 320.8,401.58 323.61,401.54" fill="none" stroke="#ee3b3b" stroke-width="1.0" stroke-linejoin="round" stroke-linecap="butt" />
<polyline points="43.4,418.1 53.07,417 62.74,409.06 65.55,405.72 68.35,401.71 71.16,397.34 73.96,392.64 76.77,387.38 79.57,381.95 82.38,376.74 85.18,371.66 87.99,366.67 90.79,361.92 93.6,357.5 96.4,353.25 99.21,349.19 102.01,345.38 104.82,341.83 107.62,338.43 110.43,335.14 113.23,331.96 116.04,328.88 118.84,325.92 121.65,323.08 124.45,320.35 127.26,317.74 130.06,315.26 132.87,312.89 135.67,310.63 138.48,308.47 141.28,306.4 144.09,304.43 146.89,302.53 149.7,300.71 152.5,298.96 155.31,297.29 158.11,295.77 160.92,294.4 163.72,293.16 166.53,291.99 169.33,290.88 172.14,289.83 174.94,288.82 177.75,287.84 180.55,286.88 183.36,285.94 186.16,285.03 188.97,284.16 191.77,283.3 194.58,282.48 197.38,281.68 200.19,280.91 202.99,280.15 205.8,279.41 208.6,278.68 211.41,277.98 214.21,277.31 217.02,276.7 219.82,276.13 222.63,275.61 225.43,275.1 228.24,274.6 231.04,274.12 233.85,273.65 236.65,273.2 239.46,272.76 242.26,272.35 245.07,271.95 247.87,271.58 250.68,271.22 253.48,270.89 256.29,270.57 259.09,270.29 261.9,270.02 264.7,269.77 267.51,269.54 270.31,269.32 273.12,269.11 275.92,268.92 278.73,268.73 281.53,268.55 284.34,268.37 287.14,268.2 289.95,268.03 292.75,267.86 295.56,267.69 298.36,267.53 301.17,267.37 303.97,267.22 306.78,267.07 309.58,266.92 312.39,266.78 315.19,266.65 318,266.52 320.8,266.4 323.61,266.28" fill="none" stroke="#b87ce6" stroke-width="1.1" stroke-linejoin="round" stroke-linecap="butt" />
<polyline points="43.4,418.2 323.9,418.2" fill="none" stroke="#45b376" stroke-width="1.15" stroke-linejoin="round" stroke-linecap="butt" />
<line x1="39.1" y1="418.1" x2="43.5" y2="418.1" stroke="#6a6a6a" stroke-width="1" />
<text x="35.3" y="421.05" font-size="8.2" text-anchor="end" fill="#2b2b2b" textLength="5.45" lengthAdjust="spacingAndGlyphs">0</text>
<line x1="41.1" y1="407.75" x2="43.5" y2="407.75" stroke="#6a6a6a" stroke-width="0.8" />
<line x1="39.1" y1="397.4" x2="43.5" y2="397.4" stroke="#6a6a6a" stroke-width="1" />
<text x="35.3" y="400.35" font-size="8.2" text-anchor="end" fill="#2b2b2b" textLength="17.85" lengthAdjust="spacingAndGlyphs">0.02</text>
<line x1="41.1" y1="387.05" x2="43.5" y2="387.05" stroke="#6a6a6a" stroke-width="0.8" />
<line x1="39.1" y1="376.7" x2="43.5" y2="376.7" stroke="#6a6a6a" stroke-width="1" />
<text x="35.3" y="379.65" font-size="8.2" text-anchor="end" fill="#2b2b2b" textLength="17.85" lengthAdjust="spacingAndGlyphs">0.04</text>
<line x1="41.1" y1="366.35" x2="43.5" y2="366.35" stroke="#6a6a6a" stroke-width="0.8" />
<line x1="39.1" y1="356" x2="43.5" y2="356" stroke="#6a6a6a" stroke-width="1" />
<text x="35.3" y="358.95" font-size="8.2" text-anchor="end" fill="#2b2b2b" textLength="17.85" lengthAdjust="spacingAndGlyphs">0.06</text>
<line x1="41.1" y1="345.65" x2="43.5" y2="345.65" stroke="#6a6a6a" stroke-width="0.8" />
<line x1="39.1" y1="335.3" x2="43.5" y2="335.3" stroke="#6a6a6a" stroke-width="1" />
<text x="35.3" y="338.25" font-size="8.2" text-anchor="end" fill="#2b2b2b" textLength="17.85" lengthAdjust="spacingAndGlyphs">0.08</text>
<line x1="41.1" y1="324.95" x2="43.5" y2="324.95" stroke="#6a6a6a" stroke-width="0.8" />
<line x1="39.1" y1="314.6" x2="43.5" y2="314.6" stroke="#6a6a6a" stroke-width="1" />
<text x="35.3" y="317.55" font-size="8.2" text-anchor="end" fill="#2b2b2b" textLength="16.3" lengthAdjust="spacingAndGlyphs">0.10</text>
<line x1="41.1" y1="304.25" x2="43.5" y2="304.25" stroke="#6a6a6a" stroke-width="0.8" />
<line x1="39.1" y1="293.9" x2="43.5" y2="293.9" stroke="#6a6a6a" stroke-width="1" />
<text x="35.3" y="296.85" font-size="8.2" text-anchor="end" fill="#2b2b2b" textLength="16.3" lengthAdjust="spacingAndGlyphs">0.12</text>
<line x1="41.1" y1="283.55" x2="43.5" y2="283.55" stroke="#6a6a6a" stroke-width="0.8" />
<line x1="39.1" y1="273.2" x2="43.5" y2="273.2" stroke="#6a6a6a" stroke-width="1" />
<text x="35.3" y="276.15" font-size="8.2" text-anchor="end" fill="#2b2b2b" textLength="16.3" lengthAdjust="spacingAndGlyphs">0.14</text>
<line x1="41.1" y1="262.85" x2="43.5" y2="262.85" stroke="#6a6a6a" stroke-width="0.8" />
<line x1="39.1" y1="252.5" x2="43.5" y2="252.5" stroke="#6a6a6a" stroke-width="1" />
<text x="35.3" y="255.45" font-size="8.2" text-anchor="end" fill="#2b2b2b" textLength="16.3" lengthAdjust="spacingAndGlyphs">0.16</text>
<line x1="43.4" y1="423.5" x2="43.4" y2="427.8" stroke="#6a6a6a" stroke-width="1" />
<text x="43.4" y="439.3" font-size="8.2" text-anchor="middle" fill="#2b2b2b" textLength="5.45" lengthAdjust="spacingAndGlyphs">0</text>
<line x1="71.45" y1="423.5" x2="71.45" y2="426.1" stroke="#6a6a6a" stroke-width="0.8" />
<line x1="99.5" y1="423.5" x2="99.5" y2="427.8" stroke="#6a6a6a" stroke-width="1" />
<text x="99.5" y="439.3" font-size="8.2" text-anchor="middle" fill="#2b2b2b" textLength="5.45" lengthAdjust="spacingAndGlyphs">2</text>
<line x1="127.55" y1="423.5" x2="127.55" y2="426.1" stroke="#6a6a6a" stroke-width="0.8" />
<line x1="155.6" y1="423.5" x2="155.6" y2="427.8" stroke="#6a6a6a" stroke-width="1" />
<text x="155.6" y="439.3" font-size="8.2" text-anchor="middle" fill="#2b2b2b" textLength="5.45" lengthAdjust="spacingAndGlyphs">4</text>
<line x1="183.65" y1="423.5" x2="183.65" y2="426.1" stroke="#6a6a6a" stroke-width="0.8" />
<line x1="211.7" y1="423.5" x2="211.7" y2="427.8" stroke="#6a6a6a" stroke-width="1" />
<text x="211.7" y="439.3" font-size="8.2" text-anchor="middle" fill="#2b2b2b" textLength="5.45" lengthAdjust="spacingAndGlyphs">6</text>
<line x1="239.75" y1="423.5" x2="239.75" y2="426.1" stroke="#6a6a6a" stroke-width="0.8" />
<line x1="267.8" y1="423.5" x2="267.8" y2="427.8" stroke="#6a6a6a" stroke-width="1" />
<text x="267.8" y="439.3" font-size="8.2" text-anchor="middle" fill="#2b2b2b" textLength="5.45" lengthAdjust="spacingAndGlyphs">8</text>
<line x1="295.85" y1="423.5" x2="295.85" y2="426.1" stroke="#6a6a6a" stroke-width="0.8" />
<line x1="323.9" y1="423.5" x2="323.9" y2="427.8" stroke="#6a6a6a" stroke-width="1" />
<text x="323.9" y="439.3" font-size="8.2" text-anchor="middle" fill="#2b2b2b" textLength="9.35" lengthAdjust="spacingAndGlyphs">10</text>
<text x="184" y="454.1" font-size="10.3" text-anchor="middle" fill="#2b2b2b" textLength="38.6" lengthAdjust="spacingAndGlyphs">Time (h)</text>
<text transform="translate(9.1,332.25) rotate(-90)" font-size="10.3" text-anchor="middle" fill="#2b2b2b" textLength="73.9" lengthAdjust="spacingAndGlyphs">Amount (mmol)</text>
<text x="142.2" y="255.6" font-size="8.5" text-anchor="start" fill="#2b2b2b" textLength="83.6" lengthAdjust="spacingAndGlyphs">MKM: no auxiliary base</text>
<line x1="194.3" y1="331.3" x2="203.3" y2="331.3" stroke="#444444" stroke-width="1.2" />
<text x="207.8" y="334.3" font-size="8.4" text-anchor="start" fill="#2b2b2b" textLength="67.4" lengthAdjust="spacingAndGlyphs">Redox-active ester</text>
<line x1="194.3" y1="345.13" x2="203.3" y2="345.13" stroke="#b87ce6" stroke-width="1.2" />
<text x="207.8" y="348.13" font-size="8.4" text-anchor="start" fill="#2b2b2b" textLength="61.5" lengthAdjust="spacingAndGlyphs">Total product (P)</text>
<line x1="194.3" y1="358.96" x2="203.3" y2="358.96" stroke="#2f7bdc" stroke-width="1.2" />
<text x="207.8" y="361.96" font-size="8.4" text-anchor="start" fill="#2b2b2b" textLength="82.2" lengthAdjust="spacingAndGlyphs">P via propagation path</text>
<line x1="194.3" y1="372.79" x2="203.3" y2="372.79" stroke="#ee3b3b" stroke-width="1.2" />
<text x="207.8" y="375.79" font-size="8.4" text-anchor="start" fill="#2b2b2b" textLength="110.4" lengthAdjust="spacingAndGlyphs">P via radical anion termination</text>
<line x1="194.3" y1="386.62" x2="203.3" y2="386.62" stroke="#45b376" stroke-width="1.2" />
<text x="207.8" y="389.62" font-size="8.4" text-anchor="start" fill="#2b2b2b" textLength="52.3" lengthAdjust="spacingAndGlyphs">P via HAT path</text>
<text x="0.5" y="241.6" font-size="14" text-anchor="start" fill="#000" font-weight="bold" >c</text>
<path d="M395.5,242 H677 V423.5 H395.5 Z" fill="none" stroke="#6a6a6a" stroke-width="1"/>
<polyline points="395.3,262.33 404.99,279.93 414.68,310.04 417.49,318.87 420.3,327.76 423.11,336.22 425.92,343.79 428.73,350.78 431.54,357.26 434.35,363.16 437.16,368.43 439.97,373.21 442.78,377.64 445.59,381.89 448.4,386.04 451.21,389.92 454.02,393.35 456.83,396.2 459.64,398.7 462.45,401.13 465.26,403.44 468.07,405.51 470.88,407.28 473.69,408.87 476.5,410.26 479.31,411.42 482.12,412.43 484.93,413.33 487.74,414.17 490.55,415 493.36,415.7 496.17,416.21 498.98,416.59 501.79,416.89 504.6,417.13 507.41,417.33 510.22,417.49 513.03,417.6 515.84,417.68 518.65,417.75 521.46,417.82 524.27,417.87" fill="none" stroke="#444444" stroke-width="1.1" stroke-linejoin="round" stroke-linecap="butt" />
<polyline points="395.3,418.1 404.99,403.62 414.68,374.95 417.49,365.73 420.3,355.96 423.11,346.83 425.92,339.41 428.73,333.18 431.54,327.62 434.35,322.38 437.16,317.27 439.97,312.41 442.78,307.86 445.59,303.65 448.4,299.62 451.21,295.9 454.02,292.65 456.83,289.9 459.64,287.45 462.45,285.27 465.26,283.29 468.07,281.48 470.88,279.84 473.69,278.41 476.5,277.17 479.31,276.07 482.12,275.09 484.93,274.19 487.74,273.31 490.55,272.55 493.36,272.02 496.17,271.66 498.98,271.34 501.79,271.06 504.6,270.82 507.41,270.62 510.22,270.45 513.03,270.31 515.84,270.2 518.65,270.09 521.46,269.98 524.27,269.88 527.08,269.79 529.89,269.7 532.7,269.63 535.51,269.56 538.32,269.5 541.13,269.45 543.94,269.41 546.75,269.38 549.56,269.37 552.37,269.37 555.18,269.36 557.99,269.36 560.8,269.35 563.61,269.35 566.42,269.34 569.23,269.34 572.04,269.33 574.85,269.33 577.66,269.33 580.47,269.32 583.28,269.32 586.09,269.31 588.9,269.31 591.71,269.31 594.52,269.31 597.33,269.3 600.14,269.3 602.95,269.3 605.76,269.29 608.57,269.29 611.38,269.29 614.19,269.29 617,269.29 619.81,269.28 622.62,269.28 625.43,269.28 628.24,269.28 631.05,269.28 633.86,269.28 636.67,269.27 639.48,269.27 642.29,269.27 645.1,269.27 647.91,269.27 650.72,269.27 653.53,269.27 656.34,269.27 659.15,269.27 661.96,269.27 664.77,269.27 667.58,269.27 670.39,269.27 673.2,269.27 676.01,269.27" fill="none" stroke="#2f7bdc" stroke-width="1.15" stroke-linejoin="round" stroke-linecap="butt" />
<polyline points="395.3,418.1 404.99,417.99 414.68,417.61 417.49,417.37 420.3,417.1 423.11,416.82 425.92,416.54 428.73,416.22 431.54,415.86 434.35,415.49 437.16,415.11 439.97,414.75 442.78,414.44 445.59,414.17 448.4,413.94 451.21,413.73 454.02,413.54 456.83,413.35 459.64,413.15 462.45,412.94 465.26,412.72 468.07,412.5 470.88,412.29 473.69,412.1 476.5,411.94 479.31,411.82 482.12,411.7 484.93,411.59 487.74,411.5 490.55,411.43 493.36,411.38 496.17,411.34 498.98,411.31 501.79,411.28 504.6,411.25 507.41,411.23 510.22,411.21 513.03,411.2 515.84,411.18 518.65,411.17 521.46,411.17 524.27,411.16 527.08,411.16 529.89,411.15 532.7,411.15 535.51,411.15 538.32,411.14 541.13,411.14 543.94,411.13 546.75,411.13 549.56,411.13 552.37,411.12 555.18,411.12 557.99,411.12 560.8,411.12 563.61,411.11 566.42,411.11 569.23,411.11 572.04,411.1 574.85,411.1 577.66,411.1 580.47,411.1 583.28,411.1 586.09,411.09 588.9,411.09 591.71,411.09 594.52,411.09 597.33,411.09 600.14,411.08 602.95,411.08 605.76,411.08 608.57,411.08 611.38,411.08 614.19,411.08 617,411.07 619.81,411.07 622.62,411.07 625.43,411.07 628.24,411.07 631.05,411.07 633.86,411.07 636.67,411.07 639.48,411.07 642.29,411.07 645.1,411.07 647.91,411.06 650.72,411.06 653.53,411.06 656.34,411.06 659.15,411.06 661.96,411.06 664.77,411.06 667.58,411.06 670.39,411.06 673.2,411.06 676.01,411.06" fill="none" stroke="#ee3b3b" stroke-width="1.0" stroke-linejoin="round" stroke-linecap="butt" />
<polyline points="395.3,418.1 404.99,403.42 414.68,374.25 417.49,364.91 420.3,355.04 423.11,345.75 425.92,338.03 428.73,331.44 431.54,325.48 434.35,319.87 437.16,314.39 439.97,309.16 442.78,304.29 445.59,299.84 448.4,295.66 451.21,291.81 454.02,288.42 456.83,285.5 459.64,282.88 462.45,280.52 465.26,278.38 468.07,276.42 470.88,274.64 473.69,273.04 476.5,271.6 479.31,270.28 482.12,269.09 484.93,268.03 487.74,267 490.55,266.12 493.36,265.5 496.17,265.04 498.98,264.64 501.79,264.28 504.6,263.98 507.41,263.73 510.22,263.53 513.03,263.38 515.84,263.27 518.65,263.17 521.46,263.07 524.27,262.98 527.08,262.9 529.89,262.82 532.7,262.75 535.51,262.7 538.32,262.65 541.13,262.6 543.94,262.57 546.75,262.55 549.56,262.54 552.37,262.53 555.18,262.53 557.99,262.52 560.8,262.52 563.61,262.52 566.42,262.51 569.23,262.51 572.04,262.5 574.85,262.5 577.66,262.49 580.47,262.49 583.28,262.49 586.09,262.48 588.9,262.48 591.71,262.48 594.52,262.47 597.33,262.47 600.14,262.47 602.95,262.47 605.76,262.46 608.57,262.46 611.38,262.46 614.19,262.46 617,262.45 619.81,262.45 622.62,262.45 625.43,262.45 628.24,262.45 631.05,262.45 633.86,262.45 636.67,262.44 639.48,262.44 642.29,262.44 645.1,262.44 647.91,262.44 650.72,262.44 653.53,262.44 656.34,262.44 659.15,262.44 661.96,262.44 664.77,262.44 667.58,262.44 670.39,262.44 673.2,262.44 676.01,262.44" fill="none" stroke="#b87ce6" stroke-width="1.1" stroke-linejoin="round" stroke-linecap="butt" />
<polyline points="395.3,418.2 676.3,418.2" fill="none" stroke="#45b376" stroke-width="1.15" stroke-linejoin="round" stroke-linecap="butt" />
<line x1="391.1" y1="418.1" x2="395.5" y2="418.1" stroke="#6a6a6a" stroke-width="1" />
<text x="387.3" y="421.05" font-size="8.2" text-anchor="end" fill="#2b2b2b" textLength="5.45" lengthAdjust="spacingAndGlyphs">0</text>
<line x1="393.1" y1="407.75" x2="395.5" y2="407.75" stroke="#6a6a6a" stroke-width="0.8" />
<line x1="391.1" y1="397.4" x2="395.5" y2="397.4" stroke="#6a6a6a" stroke-width="1" />
<text x="387.3" y="400.35" font-size="8.2" text-anchor="end" fill="#2b2b2b" textLength="17.85" lengthAdjust="spacingAndGlyphs">0.02</text>
<line x1="393.1" y1="387.05" x2="395.5" y2="387.05" stroke="#6a6a6a" stroke-width="0.8" />
<line x1="391.1" y1="376.7" x2="395.5" y2="376.7" stroke="#6a6a6a" stroke-width="1" />
<text x="387.3" y="379.65" font-size="8.2" text-anchor="end" fill="#2b2b2b" textLength="17.85" lengthAdjust="spacingAndGlyphs">0.04</text>
<line x1="393.1" y1="366.35" x2="395.5" y2="366.35" stroke="#6a6a6a" stroke-width="0.8" />
<line x1="391.1" y1="356" x2="395.5" y2="356" stroke="#6a6a6a" stroke-width="1" />
<text x="387.3" y="358.95" font-size="8.2" text-anchor="end" fill="#2b2b2b" textLength="17.85" lengthAdjust="spacingAndGlyphs">0.06</text>
<line x1="393.1" y1="345.65" x2="395.5" y2="345.65" stroke="#6a6a6a" stroke-width="0.8" />
<line x1="391.1" y1="335.3" x2="395.5" y2="335.3" stroke="#6a6a6a" stroke-width="1" />
<text x="387.3" y="338.25" font-size="8.2" text-anchor="end" fill="#2b2b2b" textLength="17.85" lengthAdjust="spacingAndGlyphs">0.08</text>
<line x1="393.1" y1="324.95" x2="395.5" y2="324.95" stroke="#6a6a6a" stroke-width="0.8" />
<line x1="391.1" y1="314.6" x2="395.5" y2="314.6" stroke="#6a6a6a" stroke-width="1" />
<text x="387.3" y="317.55" font-size="8.2" text-anchor="end" fill="#2b2b2b" textLength="16.3" lengthAdjust="spacingAndGlyphs">0.10</text>
<line x1="393.1" y1="304.25" x2="395.5" y2="304.25" stroke="#6a6a6a" stroke-width="0.8" />
<line x1="391.1" y1="293.9" x2="395.5" y2="293.9" stroke="#6a6a6a" stroke-width="1" />
<text x="387.3" y="296.85" font-size="8.2" text-anchor="end" fill="#2b2b2b" textLength="16.3" lengthAdjust="spacingAndGlyphs">0.12</text>
<line x1="393.1" y1="283.55" x2="395.5" y2="283.55" stroke="#6a6a6a" stroke-width="0.8" />
<line x1="391.1" y1="273.2" x2="395.5" y2="273.2" stroke="#6a6a6a" stroke-width="1" />
<text x="387.3" y="276.15" font-size="8.2" text-anchor="end" fill="#2b2b2b" textLength="16.3" lengthAdjust="spacingAndGlyphs">0.14</text>
<line x1="393.1" y1="262.85" x2="395.5" y2="262.85" stroke="#6a6a6a" stroke-width="0.8" />
<line x1="391.1" y1="252.5" x2="395.5" y2="252.5" stroke="#6a6a6a" stroke-width="1" />
<text x="387.3" y="255.45" font-size="8.2" text-anchor="end" fill="#2b2b2b" textLength="16.3" lengthAdjust="spacingAndGlyphs">0.16</text>
<line x1="395.3" y1="423.5" x2="395.3" y2="427.8" stroke="#6a6a6a" stroke-width="1" />
<text x="395.3" y="439.3" font-size="8.2" text-anchor="middle" fill="#2b2b2b" textLength="5.45" lengthAdjust="spacingAndGlyphs">0</text>
<line x1="423.4" y1="423.5" x2="423.4" y2="426.1" stroke="#6a6a6a" stroke-width="0.8" />
<line x1="451.5" y1="423.5" x2="451.5" y2="427.8" stroke="#6a6a6a" stroke-width="1" />
<text x="451.5" y="439.3" font-size="8.2" text-anchor="middle" fill="#2b2b2b" textLength="5.45" lengthAdjust="spacingAndGlyphs">2</text>
<line x1="479.6" y1="423.5" x2="479.6" y2="426.1" stroke="#6a6a6a" stroke-width="0.8" />
<line x1="507.7" y1="423.5" x2="507.7" y2="427.8" stroke="#6a6a6a" stroke-width="1" />
<text x="507.7" y="439.3" font-size="8.2" text-anchor="middle" fill="#2b2b2b" textLength="5.45" lengthAdjust="spacingAndGlyphs">4</text>
<line x1="535.8" y1="423.5" x2="535.8" y2="426.1" stroke="#6a6a6a" stroke-width="0.8" />
<line x1="563.9" y1="423.5" x2="563.9" y2="427.8" stroke="#6a6a6a" stroke-width="1" />
<text x="563.9" y="439.3" font-size="8.2" text-anchor="middle" fill="#2b2b2b" textLength="5.45" lengthAdjust="spacingAndGlyphs">6</text>
<line x1="592" y1="423.5" x2="592" y2="426.1" stroke="#6a6a6a" stroke-width="0.8" />
<line x1="620.1" y1="423.5" x2="620.1" y2="427.8" stroke="#6a6a6a" stroke-width="1" />
<text x="620.1" y="439.3" font-size="8.2" text-anchor="middle" fill="#2b2b2b" textLength="5.45" lengthAdjust="spacingAndGlyphs">8</text>
<line x1="648.2" y1="423.5" x2="648.2" y2="426.1" stroke="#6a6a6a" stroke-width="0.8" />
<line x1="676.3" y1="423.5" x2="676.3" y2="427.8" stroke="#6a6a6a" stroke-width="1" />
<text x="676.3" y="439.3" font-size="8.2" text-anchor="middle" fill="#2b2b2b" textLength="9.35" lengthAdjust="spacingAndGlyphs">10</text>
<text x="536.25" y="454.1" font-size="10.3" text-anchor="middle" fill="#2b2b2b" textLength="38.6" lengthAdjust="spacingAndGlyphs">Time (h)</text>
<text transform="translate(361.1,332.25) rotate(-90)" font-size="10.3" text-anchor="middle" fill="#2b2b2b" textLength="73.9" lengthAdjust="spacingAndGlyphs">Amount (mmol)</text>
<text x="481" y="255.6" font-size="8.5" text-anchor="start" fill="#2b2b2b" textLength="110.7" lengthAdjust="spacingAndGlyphs">MKM: with auxiliary base KPhtl</text>
<line x1="547.9" y1="331.3" x2="556.9" y2="331.3" stroke="#444444" stroke-width="1.2" />
<text x="561.4" y="334.3" font-size="8.4" text-anchor="start" fill="#2b2b2b" textLength="67.4" lengthAdjust="spacingAndGlyphs">Redox-active ester</text>
<line x1="547.9" y1="345.13" x2="556.9" y2="345.13" stroke="#b87ce6" stroke-width="1.2" />
<text x="561.4" y="348.13" font-size="8.4" text-anchor="start" fill="#2b2b2b" textLength="61.5" lengthAdjust="spacingAndGlyphs">Total product (P)</text>
<line x1="547.9" y1="358.96" x2="556.9" y2="358.96" stroke="#2f7bdc" stroke-width="1.2" />
<text x="561.4" y="361.96" font-size="8.4" text-anchor="start" fill="#2b2b2b" textLength="82.2" lengthAdjust="spacingAndGlyphs">P via propagation path</text>
<line x1="547.9" y1="372.79" x2="556.9" y2="372.79" stroke="#ee3b3b" stroke-width="1.2" />
<text x="561.4" y="375.79" font-size="8.4" text-anchor="start" fill="#2b2b2b" textLength="110.4" lengthAdjust="spacingAndGlyphs">P via radical anion termination</text>
<line x1="547.9" y1="386.62" x2="556.9" y2="386.62" stroke="#45b376" stroke-width="1.2" />
<text x="561.4" y="389.62" font-size="8.4" text-anchor="start" fill="#2b2b2b" textLength="52.3" lengthAdjust="spacingAndGlyphs">P via HAT path</text>
<text x="351" y="241.6" font-size="14" text-anchor="start" fill="#000" font-weight="bold" >d</text>
<path d="M324.5,476 V657.5 H43" fill="none" stroke="#6a6a6a" stroke-width="1"/>
<line x1="42.5" y1="476" x2="324.5" y2="476" stroke="#6a6a6a" stroke-width="1"/>
<line x1="43" y1="475.5" x2="43" y2="661.6" stroke="#6a6a6a" stroke-width="1"/>
<polyline points="42.9,619.2 43.52,620.72 44.15,622.24 44.77,623.75 45.4,625.25 46.02,626.74 46.64,628.23 47.27,629.7 47.89,631.21 48.52,632.77 49.14,634.34 49.76,635.91 50.39,637.43 51.01,638.88 51.64,640.22 52.26,641.44 52.88,642.51 53.51,643.53 54.13,644.52 54.76,645.46 55.38,646.34 56,647.14 56.63,647.87 57.25,648.49 57.88,649.02 58.5,649.47 59.12,649.91 59.75,650.33 60.37,650.72 61,651.08 61.62,651.41 62.24,651.71 62.87,651.97 63.49,652.19 64.12,652.36 64.74,652.49 65.36,652.59 65.99,652.68 66.61,652.77 67.24,652.85 67.86,652.92 68.48,652.98 69.11,653.03 69.73,653.07 70.36,653.1 70.98,653.11 71.6,653.12 72.23,653.13 72.85,653.13 73.48,653.14 74.1,653.14 74.72,653.15 75.35,653.16 75.97,653.16 76.6,653.17 77.22,653.17 77.84,653.17 78.47,653.18 79.09,653.18 79.72,653.18 80.34,653.19 80.96,653.19 81.59,653.19 82.21,653.19 82.84,653.2 83.46,653.2 84.08,653.2 84.71,653.2 85.33,653.2 85.96,653.2 86.58,653.35 87.2,653.31 87.83,652.95 88.45,653.47 89.08,653.53 89.7,653 90.32,653.52 90.95,653.13 91.57,653.19 92.2,653.54 92.82,653.43 93.44,652.96 94.07,653.15 94.69,653.21 95.32,653.09 95.94,652.99 96.56,653.07 97.19,653.36 97.81,652.86 98.44,653.24 99.06,653.16 99.68,652.86 100.31,653.08 100.93,653.29 101.56,653.21 102.18,652.9 102.8,653.54 103.43,653.4 104.05,653.53 104.68,652.92 105.3,653.04 105.92,652.88 106.55,653.4 107.17,653.04 107.8,652.94 108.42,653.15 109.04,653.49 109.67,653.42 110.29,653.03 110.92,652.95 111.54,653.49 112.16,653.25 112.79,653.34 113.41,652.91 114.04,652.89 114.66,653.33 115.28,653.15 115.91,652.9 116.53,653.51 117.16,653.29 117.78,653.41 118.4,652.91 119.03,653.45 119.65,652.9 120.28,653.45 120.9,653.17 121.52,653.09 122.15,653.24 122.77,653.5 123.4,653.04 124.02,652.94 124.64,653.22 125.27,653.02 125.89,652.93 126.52,652.96 127.14,652.89 127.76,652.99 128.39,653.07 129.01,653.06 129.64,653.38 130.26,653.05 130.88,653.2 131.51,652.97 132.13,653.09 132.76,652.86 133.38,653.03 134,652.86 134.63,653.36 135.25,653.24 135.88,652.98 136.5,653.18 137.12,653.5 137.75,652.92 138.37,653.42 139,653.15 139.62,653.2 140.24,653.43 140.87,653.13 141.49,653.2 142.12,653.33 142.74,653.54 143.36,653.09 143.99,653.43 144.61,653.34 145.24,653.3 145.86,653.13 146.48,653.09 147.11,652.89 147.73,652.94 148.36,652.9 148.98,653.37 149.6,653.03 150.23,652.96 150.85,652.91 151.48,653.44 152.1,653.46 152.72,653.32 153.35,653.05 153.97,653.02 154.6,653.06 155.22,653.17 155.84,652.96 156.47,653.16 157.09,653.03 157.72,653.52 158.34,653.53 158.96,653.23 159.59,653.02 160.21,653.53 160.84,653.07 161.46,653.1 162.08,652.85 162.71,653.12 163.33,653.18 163.96,653.2 164.58,652.99 165.2,653.2 165.83,652.85 166.45,653.03 167.08,652.91 167.7,653.13 168.32,652.88 168.95,652.87 169.57,653.06 170.2,653.01 170.82,653.26 171.44,653.22 172.07,653.38 172.69,653.31 173.32,653.35 173.94,653.47 174.56,653.12 175.19,653.08 175.81,653.54 176.44,652.95 177.06,653.36 177.68,653.3 178.31,652.88 178.93,653.43 179.56,653.47 180.18,653.29 180.8,653.36 181.43,653.42 182.05,652.95 182.68,653.22 183.3,653.2 183.92,653.43 184.55,653.41 185.17,653.43 185.8,653.26 186.42,653.47 187.04,653.33 187.67,653.34 188.29,653.01 188.92,652.87 189.54,652.94 190.16,653.1 190.79,652.92 191.41,653.44 192.04,653.24 192.66,653.29 193.28,653.29 193.91,653.33 194.53,653.19 195.16,652.85 195.78,653.41 196.4,653.37 197.03,653.2 197.65,653.22 198.28,653.31 198.9,652.9 199.52,653.37 200.15,653.03 200.77,652.9 201.4,653.04 202.02,653.36 202.64,652.99 203.27,653.37 203.89,653.53 204.52,653.2 205.14,653.12 205.76,653.19 206.39,653.33 207.01,653.39 207.64,653.28 208.26,653.3 208.88,652.9 209.51,652.95 210.13,653.03 210.76,653.37 211.38,653.06 212,653.25 212.63,652.86 213.25,652.89 213.88,653.04 214.5,653.32 215.12,653.33 215.75,653.32 216.37,653.05 217,653.21 217.62,653.18 218.24,653.18 218.87,652.93 219.49,653.48 220.12,652.99 220.74,653.53 221.36,653.51 221.99,652.86 222.61,653.17 223.24,653.42 223.86,653.53 224.48,653.16 225.11,653.04 225.73,653 226.36,653.51 226.98,653 227.6,653.26 228.23,652.95 228.85,653.22 229.48,653.52 230.1,652.94 230.72,653.42 231.35,653.21 231.97,653.47 232.6,653.34 233.22,653.01 233.84,653.48 234.47,653.19 235.09,652.87 235.72,652.85 236.34,653.19 236.96,653.17 237.59,653.06 238.21,652.95 238.84,653.09 239.46,653.07 240.08,653.44 240.71,652.85 241.33,653.38 241.96,653.44 242.58,652.93 243.2,653.5 243.83,653.35 244.45,653.48 245.08,653.05 245.7,653.11 246.32,653.13 246.95,653.55 247.57,653.26 248.2,653.1 248.82,653.15 249.44,653.04 250.07,652.88 250.69,652.92 251.32,653.43 251.94,653.05 252.56,653.5 253.19,653.02 253.81,653.04 254.44,653.21 255.06,652.98 255.68,653.11 256.31,653.52 256.93,653.47 257.56,653.42 258.18,653.29 258.8,653.49 259.43,653.51 260.05,653.23 260.68,653.35 261.3,652.88 261.92,653.36 262.55,653.17 263.17,653.38 263.8,653.3 264.42,653.05 265.04,652.88 265.67,653.5 266.29,652.94 266.92,653.18 267.54,653.09 268.16,653.06 268.79,653.37 269.41,653.53 270.04,653.03 270.66,653.31 271.28,653.06 271.91,653.24 272.53,653.13 273.16,652.97 273.78,652.96 274.4,653 275.03,653.48 275.65,653.2 276.28,653 276.9,653.48 277.52,653.55 278.15,653.16 278.77,652.95 279.4,652.98 280.02,652.91 280.64,653.09 281.27,652.91 281.89,653.02 282.52,653.03 283.14,653.25 283.76,653.47 284.39,653.37 285.01,653.14 285.64,653.14 286.26,653.22 286.88,653.11 287.51,653.09 288.13,652.89 288.76,653.04 289.38,653.53 290,652.94 290.63,653.2 291.25,653.29 291.88,653.45 292.5,653 293.12,653.04 293.75,653.02 294.37,653.13 295,653.16 295.62,653.52 296.24,653.44 296.87,653.46 297.49,652.87 298.12,652.87 298.74,653.35 299.36,653.48 299.99,653.18 300.61,653.26 301.24,652.85 301.86,653.12 302.48,653.5 303.11,653.43 303.73,653.45 304.36,653.53 304.98,653.02 305.6,652.93 306.23,652.96 306.85,653.22 307.48,653.33 308.1,653.51 308.72,653.36 309.35,653.3 309.97,653.39 310.6,653.17 311.22,653.24 311.84,652.88 312.47,653.4 313.09,653.01 313.72,653.49 314.34,653.3 314.96,653.06 315.59,652.94 316.21,653.03 316.84,653.3 317.46,653.34 318.08,652.93 318.71,652.9 319.33,653.22 319.96,653.26 320.58,653.12 321.2,653.01 321.83,653.27 322.45,652.86 323.08,653.06 323.7,653.17" fill="none" stroke="#444444" stroke-width="1.1" stroke-linejoin="round" stroke-linecap="butt" />
<polyline points="42.9,652.82 43.84,652.66 44.77,653.11 45.71,652.59 46.64,653.01 47.58,652.86 48.52,652.58 49.45,652.98 50.39,652.56 51.32,652.92 52.26,652.59 53.2,652.61 54.13,652.91 55.07,653.27 56,652.64 56.94,652.73 57.88,653.09 58.81,653.38 59.75,653.05 60.68,652.88 61.62,653.41 62.56,652.57 63.49,653.3 64.43,652.79 65.36,652.66 66.3,652.63 67.24,652.81 68.17,653.26 69.11,652.69 70.04,653.05 70.98,653.1 71.92,652.86 72.85,653.02 73.79,652.58 74.72,652.58 75.66,652.71 76.6,653.14 77.53,652.91 78.47,652.81 79.4,653.05 80.34,652.94 81.28,652.8 82.21,653.24 83.15,653.16 84.08,652.75 85.02,653.04 85.96,653 86.89,653.32 87.83,653.18 88.76,652.79 89.7,653.41 90.64,652.63 91.57,652.9 92.51,653.21 93.44,652.66 94.38,652.97 95.32,652.56 96.25,653.13 97.19,653.22 98.12,653.04 99.06,653.32 100,652.81 100.93,653.15 101.87,653.06 102.8,653.05 103.74,652.94 104.68,653.28 105.61,653.38 106.55,652.95 107.48,653.13 108.42,652.58 109.36,653.16 110.29,653.11 111.23,653.42 112.16,653.27 113.1,652.78 114.04,652.87 114.97,653.13 115.91,652.55 116.84,652.94 117.78,652.68 118.72,652.63 119.65,652.58 120.59,653.22 121.52,652.64 122.46,652.75 123.4,652.88 124.33,653.31 125.27,652.6 126.2,652.93 127.14,653.02 128.08,653.32 129.01,653.26 129.95,653.31 130.88,652.78 131.82,652.9 132.76,652.85 133.69,653.32 134.63,653.39 135.56,652.66 136.5,652.69 137.44,652.74 138.37,652.74 139.31,652.96 140.24,653.06 141.18,652.76 142.12,652.53 143.05,652.9 143.99,652.86 144.92,653.04 145.86,653.39 146.8,653.15 147.73,652.99 148.67,653.08 149.6,653.14 150.54,652.58 151.48,653.34 152.41,653.23 153.35,653.31 154.28,653.25 155.22,652.88 156.16,652.89 157.09,652.62 158.03,653.1 158.96,652.58 159.9,652.59 160.84,652.72 161.77,652.67 162.71,652.83 163.64,652.57 164.58,652.53 165.52,652.66 166.45,652.62 167.39,652.85 168.32,652.55 169.26,653.31 170.2,653.08 171.13,652.66 172.07,652.75 173,652.84 173.94,652.86 174.88,652.64 175.81,653.29 176.75,653.42 177.68,652.95 178.62,652.96 179.56,652.6 180.49,652.62 181.43,652.84 182.36,652.77 183.3,653.27 184.24,652.67 185.17,652.55 186.11,653.38 187.04,653 187.98,652.66 188.92,653.02 189.85,652.55 190.79,653 191.72,653.41 192.66,653.3 193.6,653.15 194.53,652.76 195.47,652.86 196.4,652.68 197.34,653.22 198.28,653.01 199.21,653.23 200.15,652.82 201.08,652.73 202.02,653.26 202.96,653.41 203.89,653.29 204.83,653.25 205.76,653.26 206.7,653.19 207.64,652.73 208.57,652.99 209.51,652.85 210.44,652.55 211.38,652.55 212.32,652.78 213.25,652.76 214.19,653.15 215.12,653.39 216.06,652.93 217,653.37 217.93,653.42 218.87,653.39 219.8,652.86 220.74,652.73 221.68,652.73 222.61,652.7 223.55,652.71 224.48,653.09 225.42,653.34 226.36,653.28 227.29,652.96 228.23,653.12 229.16,653.25 230.1,652.6 231.04,653.12 231.97,653.35 232.91,653.23 233.84,653.2 234.78,652.96 235.72,652.69 236.65,653.24 237.59,652.83 238.52,653.25 239.46,653.4 240.4,652.88 241.33,652.89 242.27,653.38 243.2,653.18 244.14,652.68 245.08,652.64 246.01,652.66 246.95,653.34 247.88,653.25 248.82,652.66 249.76,653.27 250.69,653.41 251.63,653.12 252.56,652.84 253.5,653.02 254.44,652.65 255.37,652.54 256.31,653.4 257.24,653.11 258.18,653 259.12,653.37 260.05,652.92 260.99,653.31 261.92,653.27 262.86,652.72 263.8,652.75 264.73,652.79 265.67,652.74 266.6,653.06 267.54,652.76 268.48,652.9 269.41,652.65 270.35,653.35 271.28,652.85 272.22,652.94 273.16,653.05 274.09,653.34 275.03,652.91 275.96,653.35 276.9,652.98 277.84,653.01 278.77,653 279.71,652.54 280.64,652.92 281.58,652.69 282.52,652.53 283.45,653.25 284.39,652.68 285.32,652.95 286.26,653.18 287.2,653.03 288.13,652.82 289.07,652.99 290,653.03 290.94,653.23 291.88,652.62 292.81,653.03 293.75,652.75 294.68,652.78 295.62,653.22 296.56,652.98 297.49,653.03 298.43,653.21 299.36,653.35 300.3,652.93 301.24,653.08 302.17,652.98 303.11,652.99 304.04,653.15 304.98,652.93 305.92,653.01 306.85,652.96 307.79,653.37 308.72,653.16 309.66,653.32 310.6,653.38 311.53,652.76 312.47,653.03 313.4,653.38 314.34,653.28 315.28,652.65 316.21,652.64 317.15,652.93 318.08,652.59 319.02,652.74 319.96,652.59 320.89,653.13 321.83,653.23 322.76,653.33 323.7,652.67" fill="none" stroke="#f26262" stroke-width="1.5" stroke-linejoin="round" stroke-linecap="butt" />
<polyline points="42.9,480.99 43.52,483.45 44.15,485.91 44.77,488.37 45.4,490.81 46.02,493.26 46.64,495.69 47.27,498.12 47.89,500.54 48.52,502.96 49.14,505.36 49.76,507.76 50.39,510.14 51.01,512.52 51.64,514.9 52.26,517.28 52.88,519.67 53.51,522.04 54.13,524.39 54.76,526.73 55.38,529.09 56,531.5 56.63,533.99 57.25,536.59 57.88,539.34 58.5,542.19 59.12,545.05 59.75,547.87 60.37,550.58 61,553.24 61.62,555.91 62.24,558.57 62.87,561.21 63.49,563.8 64.12,566.33 64.74,568.77 65.36,571.12 65.99,573.34 66.61,575.42 67.24,577.37 67.86,579.21 68.48,580.97 69.11,582.66 69.73,584.3 70.36,585.93 70.98,587.55 71.6,589.19 72.23,590.87 72.85,592.6 73.48,594.35 74.1,596.09 74.72,597.84 75.35,599.58 75.97,601.31 76.6,603.02 77.22,604.71 77.84,606.46 78.47,608.23 79.09,609.95 79.72,611.56 80.34,612.99 80.96,614.2 81.59,615.28 82.21,616.27 82.84,617.2 83.46,618.12 84.08,619.04 84.71,619.95 85.33,620.83 85.96,621.7 86.58,622.55 87.2,623.37 87.83,624.19 88.45,624.99 89.08,625.78 89.7,626.55 90.32,627.31 90.95,628.04 91.57,628.73 92.2,629.38 92.82,630.01 93.44,630.62 94.07,631.2 94.69,631.78 95.32,632.34 95.94,632.88 96.56,633.42 97.19,633.96 97.81,634.49 98.44,635.03 99.06,635.57 99.68,636.11 100.31,636.67 100.93,637.25 101.56,637.84 102.18,638.42 102.8,638.99 103.43,639.54 104.05,640.05 104.68,640.51 105.3,640.92 105.92,641.27 106.55,641.57 107.17,641.85 107.8,642.12 108.42,642.38 109.04,642.65 109.67,642.94 110.29,643.27 110.92,643.64 111.54,644.05 112.16,644.47 112.79,644.88 113.41,645.26 114.04,645.6 114.66,645.88 115.28,646.13 115.91,646.37 116.53,646.6 117.16,646.83 117.78,647.05 118.4,647.26 119.03,647.47 119.65,647.66 120.28,647.86 120.9,648.04 121.52,648.22 122.15,648.39 122.77,648.56 123.4,648.72 124.02,648.87 124.64,649.01 125.27,649.15 125.89,649.28 126.52,649.41 127.14,649.52 127.76,649.63 128.39,649.74 129.01,649.83 129.64,649.93 130.26,650.01 130.88,650.1 131.51,650.18 132.13,650.27 132.76,650.34 133.38,650.42 134,650.49 134.63,650.56 135.25,650.63 135.88,650.7 136.5,650.76 137.12,650.82 137.75,650.88 138.37,650.94 139,650.99 139.62,651.04 140.24,651.09 140.87,651.14 141.49,651.19 142.12,651.23 142.74,651.27 143.36,651.31 143.99,651.34 144.61,651.38 145.24,651.41 145.86,651.44 146.48,651.48 147.11,651.51 147.73,651.54 148.36,651.57 148.98,651.6 149.6,651.63 150.23,651.66 150.85,651.68 151.48,651.71 152.1,651.74 152.72,651.76 153.35,651.79 153.97,651.81 154.6,651.84 155.22,651.86 155.84,651.89 156.47,651.91 157.09,651.93 157.72,651.95 158.34,651.97 158.96,651.99 159.59,652.01 160.21,652.03 160.84,652.05 161.46,652.53 162.08,652.23 162.71,652.49 163.33,652.09 163.96,651.87 164.58,651.9 165.2,652.63 165.83,652.38 166.45,652 167.08,651.73 167.7,652.22 168.32,652.41 168.95,652.17 169.57,652.02 170.2,652.44 170.82,652.71 171.44,652.02 172.07,651.84 172.69,652.16 173.32,652.25 173.94,652.53 174.56,652.05 175.19,652.66 175.81,652.62 176.44,652.39 177.06,652.11 177.68,652.88 178.31,652.23 178.93,652.75 179.56,652.17 180.18,652.17 180.8,652.72 181.43,652.27 182.05,652.93 182.68,652.48 183.3,652.19 183.92,652.23 184.55,652.43 185.17,652.69 185.8,652.98 186.42,652.19 187.04,652.44 187.67,652.27 188.29,653.04 188.92,652.21 189.54,652.13 190.16,652.15 190.79,652.49 191.41,653 192.04,652.99 192.66,652.85 193.28,653.12 193.91,653.06 194.53,652.46 195.16,652.32 195.78,653.08 196.4,652.89 197.03,652.18 197.65,652.82 198.28,652.54 198.9,652.54 199.52,652.5 200.15,652.34 200.77,652.18 201.4,652.46 202.02,652.54 202.64,653.15 203.27,652.32 203.89,653.16 204.52,652.41 205.14,652.56 205.76,653.03 206.39,653.04 207.01,652.65 207.64,652.27 208.26,652.7 208.88,652.6 209.51,653.15 210.13,652.43 210.76,652.6 211.38,653.14 212,652.27 212.63,652.66 213.25,653.06 213.88,653.02 214.5,652.3 215.12,652.29 215.75,652.33 216.37,653.19 217,652.53 217.62,653.02 218.24,653.17 218.87,652.62 219.49,652.55 220.12,653.24 220.74,652.9 221.36,652.55 221.99,653.01 222.61,652.61 223.24,652.57 223.86,652.3 224.48,653.06 225.11,653.22 225.73,652.94 226.36,653.25 226.98,652.33 227.6,652.55 228.23,652.79 228.85,653.27 229.48,653.27 230.1,652.71 230.72,652.57 231.35,652.76 231.97,652.82 232.6,653.26 233.22,652.51 233.84,653.14 234.47,653.07 235.09,653.16 235.72,653.11 236.34,652.95 236.96,652.67 237.59,652.67 238.21,652.71 238.84,653.13 239.46,652.43 240.08,652.55 240.71,653.11 241.33,652.61 241.96,652.43 242.58,652.4 243.2,652.92 243.83,652.69 244.45,653.35 245.08,653.26 245.7,653.36 246.32,652.64 246.95,652.46 247.57,652.48 248.2,652.88 248.82,653.09 249.44,652.83 250.07,652.62 250.69,652.81 251.32,653.01 251.94,653.07 252.56,653.15 253.19,653.25 253.81,653.07 254.44,652.53 255.06,653.25 255.68,652.7 256.31,652.98 256.93,652.79 257.56,653.16 258.18,652.62 258.8,652.67 259.43,652.67 260.05,652.58 260.68,653.31 261.3,653.01 261.92,652.76 262.55,652.83 263.17,653.43 263.8,652.95 264.42,652.68 265.04,653.26 265.67,653.11 266.29,653.45 266.92,652.56 267.54,652.93 268.16,653.28 268.79,653.31 269.41,653.38 270.04,652.51 270.66,652.77 271.28,652.59 271.91,652.67 272.53,653.45 273.16,653.07 273.78,653.42 274.4,652.86 275.03,653.36 275.65,652.94 276.28,652.76 276.9,653.28 277.52,653.45 278.15,652.61 278.77,653.1 279.4,653.13 280.02,652.73 280.64,652.88 281.27,652.66 281.89,652.73 282.52,652.78 283.14,653.13 283.76,653.18 284.39,652.74 285.01,652.55 285.64,652.86 286.26,653.22 286.88,652.73 287.51,652.86 288.13,652.75 288.76,653.35 289.38,653.1 290,652.62 290.63,652.66 291.25,652.96 291.88,653.11 292.5,653.21 293.12,652.66 293.75,652.74 294.37,653.27 295,652.99 295.62,652.86 296.24,652.89 296.87,653.54 297.49,652.9 298.12,653.16 298.74,652.95 299.36,653.01 299.99,653.46 300.61,653.6 301.24,652.97 301.86,652.8 302.48,653.34 303.11,652.82 303.73,652.62 304.36,653.52 304.98,653.04 305.6,653.44 306.23,653.03 306.85,653.51 307.48,653.09 308.1,652.8 308.72,652.65 309.35,653.19 309.97,653.28 310.6,653.55 311.22,652.74 311.84,653.27 312.47,653.02 313.09,653.16 313.72,652.8 314.34,652.94 314.96,653.18 315.59,653.59 316.21,652.78 316.84,653.16 317.46,653.48 318.08,653.64 318.71,652.88 319.33,652.81 319.96,653.63 320.58,653.66 321.2,653.17 321.83,652.75 322.45,653.62 323.08,653.09 323.7,653.6" fill="none" stroke="#7b3f3f" stroke-width="1.2" stroke-linejoin="round" stroke-linecap="butt" />
<polyline points="42.9,514.36 43.52,518.47 44.15,522.37 44.77,525.94 45.4,529.09 46.02,531.78 46.64,534.19 47.27,536.39 47.89,538.44 48.52,540.39 49.14,542.3 49.76,544.22 50.39,546.19 51.01,548.15 51.64,550.1 52.26,552.01 52.88,553.89 53.51,555.72 54.13,557.51 54.76,559.24 55.38,560.91 56,562.53 56.63,564.1 57.25,565.63 57.88,567.12 58.5,568.59 59.12,570.04 59.75,571.47 60.37,572.89 61,574.3 61.62,575.72 62.24,577.12 62.87,578.51 63.49,579.88 64.12,581.24 64.74,582.59 65.36,583.93 65.99,585.27 66.61,586.6 67.24,587.93 67.86,589.26 68.48,590.59 69.11,591.91 69.73,593.23 70.36,594.54 70.98,595.85 71.6,597.16 72.23,598.46 72.85,599.77 73.48,601.07 74.1,602.38 74.72,603.71 75.35,605.08 75.97,606.45 76.6,607.83 77.22,609.18 77.84,610.5 78.47,611.76 79.09,612.95 79.72,614.05 80.34,615.1 80.96,616.11 81.59,617.08 82.21,618.01 82.84,618.9 83.46,619.76 84.08,620.59 84.71,621.37 85.33,622.12 85.96,622.84 86.58,623.55 87.2,624.26 87.83,624.99 88.45,625.74 89.08,626.5 89.7,627.26 90.32,628.01 90.95,628.74 91.57,629.44 92.2,630.09 92.82,630.73 93.44,631.34 94.07,631.95 94.69,632.54 95.32,633.11 95.94,633.68 96.56,634.23 97.19,634.78 97.81,635.32 98.44,635.86 99.06,636.39 99.68,636.91 100.31,637.44 100.93,637.97 101.56,638.5 102.18,639.02 102.8,639.53 103.43,640.01 104.05,640.48 104.68,640.92 105.3,641.32 105.92,641.69 106.55,642.02 107.17,642.34 107.8,642.64 108.42,642.94 109.04,643.24 109.67,643.56 110.29,643.89 110.92,644.26 111.54,644.64 112.16,645.02 112.79,645.4 113.41,645.75 114.04,646.06 114.66,646.33 115.28,646.56 115.91,646.79 116.53,647.02 117.16,647.23 117.78,647.45 118.4,647.65 119.03,647.85 119.65,648.05 120.28,648.23 120.9,648.41 121.52,648.59 122.15,648.76 122.77,648.92 123.4,649.07 124.02,649.22 124.64,649.36 125.27,649.49 125.89,649.62 126.52,649.74 127.14,649.85 127.76,649.96 128.39,650.06 129.01,650.15 129.64,650.23 130.26,650.31 130.88,650.39 131.51,650.47 132.13,650.54 132.76,650.62 133.38,650.69 134,650.75 134.63,650.82 135.25,650.88 135.88,650.94 136.5,651 137.12,651.05 137.75,651.11 138.37,651.16 139,651.2 139.62,651.25 140.24,651.3 140.87,651.34 141.49,651.38 142.12,651.42 142.74,651.45 143.36,651.49 143.99,651.52 144.61,651.55 145.24,651.58 145.86,651.61 146.48,651.64 147.11,651.67 147.73,651.7 148.36,651.72 148.98,651.75 149.6,651.78 150.23,651.8 150.85,651.83 151.48,651.85 152.1,651.87 152.72,651.9 153.35,651.92 153.97,651.94 154.6,651.96 155.22,651.98 155.84,652 156.47,652.02 157.09,652.04 157.72,652.06 158.34,652.08 158.96,652.1 159.59,652.12 160.21,652.13 160.84,652.15 161.46,652.29 162.08,652.51 162.71,651.86 163.33,652.5 163.96,651.95 164.58,652.15 165.2,652.6 165.83,652.6 166.45,651.97 167.08,652.02 167.7,652.21 168.32,652.34 168.95,652.22 169.57,651.97 170.2,652.11 170.82,652.6 171.44,652.78 172.07,651.94 172.69,652.47 173.32,652.68 173.94,651.97 174.56,652.78 175.19,652.07 175.81,652.56 176.44,652.53 177.06,652.61 177.68,652.3 178.31,652.43 178.93,652.6 179.56,652.45 180.18,652.7 180.8,652.49 181.43,652.5 182.05,652.09 182.68,652.69 183.3,652.57 183.92,652.33 184.55,652.87 185.17,652.89 185.8,652.58 186.42,652.31 187.04,652.61 187.67,652.25 188.29,652.28 188.92,652.59 189.54,652.26 190.16,652.62 190.79,652.69 191.41,652.23 192.04,652.83 192.66,652.28 193.28,652.94 193.91,652.99 194.53,652.73 195.16,652.28 195.78,652.73 196.4,652.61 197.03,653.19 197.65,652.38 198.28,653.11 198.9,653.25 199.52,652.99 200.15,653.08 200.77,652.46 201.4,653.25 202.02,652.77 202.64,653.24 203.27,653.2 203.89,652.45 204.52,653.08 205.14,653.23 205.76,652.37 206.39,652.65 207.01,653.06 207.64,652.47 208.26,653.21 208.88,652.59 209.51,653.14 210.13,652.47 210.76,652.83 211.38,653.25 212,652.54 212.63,652.6 213.25,652.85 213.88,652.66 214.5,652.38 215.12,652.53 215.75,652.52 216.37,653.29 217,653.04 217.62,653.26 218.24,652.54 218.87,653.15 219.49,652.49 220.12,652.91 220.74,653.01 221.36,652.74 221.99,653.26 222.61,652.94 223.24,652.97 223.86,653.27 224.48,652.5 225.11,653.39 225.73,653.03 226.36,652.8 226.98,653.2 227.6,652.67 228.23,653.4 228.85,652.99 229.48,652.77 230.1,653.18 230.72,652.86 231.35,652.6 231.97,653.17 232.6,652.47 233.22,653.25 233.84,652.68 234.47,653.07 235.09,653.42 235.72,653.02 236.34,653.1 236.96,652.75 237.59,652.45 238.21,652.48 238.84,652.6 239.46,653.07 240.08,652.88 240.71,652.97 241.33,653.35 241.96,652.59 242.58,652.69 243.2,653.12 243.83,652.49 244.45,652.47 245.08,652.82 245.7,652.58 246.32,652.83 246.95,652.7 247.57,653.06 248.2,653.07 248.82,652.69 249.44,653.11 250.07,652.96 250.69,652.62 251.32,653.43 251.94,652.73 252.56,652.64 253.19,652.59 253.81,653.14 254.44,653.37 255.06,653.28 255.68,652.91 256.31,652.77 256.93,652.52 257.56,653.15 258.18,653.07 258.8,652.86 259.43,653.16 260.05,652.96 260.68,653.46 261.3,653.26 261.92,652.77 262.55,653.43 263.17,652.57 263.8,653.06 264.42,652.94 265.04,652.77 265.67,652.6 266.29,653.32 266.92,652.55 267.54,653.09 268.16,653.49 268.79,652.69 269.41,652.75 270.04,653.16 270.66,653.06 271.28,653.2 271.91,653.37 272.53,652.73 273.16,652.87 273.78,652.86 274.4,652.61 275.03,653.46 275.65,653.35 276.28,653.29 276.9,652.58 277.52,653.42 278.15,653.32 278.77,653.04 279.4,653.32 280.02,653.04 280.64,652.81 281.27,652.69 281.89,652.82 282.52,652.63 283.14,652.93 283.76,653.34 284.39,653.29 285.01,653.44 285.64,653.31 286.26,652.87 286.88,653.16 287.51,653.04 288.13,653.4 288.76,653.13 289.38,652.88 290,653.26 290.63,653.58 291.25,652.83 291.88,653.5 292.5,652.64 293.12,652.88 293.75,652.86 294.37,653.37 295,653.57 295.62,653.38 296.24,652.96 296.87,653.51 297.49,652.96 298.12,652.88 298.74,653.55 299.36,653.27 299.99,653.33 300.61,653.31 301.24,653.62 301.86,653.12 302.48,653.49 303.11,653.35 303.73,653.51 304.36,653.09 304.98,653.38 305.6,653.23 306.23,652.97 306.85,652.87 307.48,653.28 308.1,652.74 308.72,653.58 309.35,652.81 309.97,652.7 310.6,652.78 311.22,653.6 311.84,653.02 312.47,652.82 313.09,652.7 313.72,652.72 314.34,653.37 314.96,653.31 315.59,653.38 316.21,653.42 316.84,652.75 317.46,653.28 318.08,653.05 318.71,653.51 319.33,653.51 319.96,653.58 320.58,652.76 321.2,653.56 321.83,653.61 322.45,653.64 323.08,652.81 323.7,652.91" fill="none" stroke="#d9a21b" stroke-width="1.2" stroke-linejoin="round" stroke-linecap="butt" />
<polyline points="42.9,581.78 43.52,583.89 44.15,585.82 44.77,587.49 45.4,588.91 46.02,590.21 46.64,591.38 47.27,592.38 47.89,593.2 48.52,593.87 49.14,594.46 49.76,594.97 50.39,595.42 51.01,595.82 51.64,596.19 52.26,596.52 52.88,596.83 53.51,597.13 54.13,597.4 54.76,597.66 55.38,597.92 56,598.17 56.63,598.42 57.25,598.66 57.88,598.88 58.5,599.09 59.12,599.3 59.75,599.51 60.37,599.73 61,599.98 61.62,600.25 62.24,600.55 62.87,600.87 63.49,601.21 64.12,601.57 64.74,601.95 65.36,602.34 65.99,602.76 66.61,603.22 67.24,603.71 67.86,604.21 68.48,604.73 69.11,605.26 69.73,605.78 70.36,606.3 70.98,606.82 71.6,607.36 72.23,607.9 72.85,608.44 73.48,608.98 74.1,609.51 74.72,610.04 75.35,610.54 75.97,611.01 76.6,611.48 77.22,611.95 77.84,612.44 78.47,612.95 79.09,613.52 79.72,614.14 80.34,614.88 80.96,615.7 81.59,616.56 82.21,617.42 82.84,618.26 83.46,619.03 84.08,619.71 84.71,620.34 85.33,620.94 85.96,621.52 86.58,622.07 87.2,622.61 87.83,623.13 88.45,623.65 89.08,624.17 89.7,624.7 90.32,625.23 90.95,625.78 91.57,626.35 92.2,626.95 92.82,627.56 93.44,628.19 94.07,628.82 94.69,629.47 95.32,630.12 95.94,630.77 96.56,631.42 97.19,632.06 97.81,632.7 98.44,633.32 99.06,633.92 99.68,634.51 100.31,635.09 100.93,635.66 101.56,636.23 102.18,636.79 102.8,637.34 103.43,637.87 104.05,638.38 104.68,638.86 105.3,639.32 105.92,639.74 106.55,640.14 107.17,640.52 107.8,640.89 108.42,641.24 109.04,641.59 109.67,641.94 110.29,642.3 110.92,642.66 111.54,643.03 112.16,643.38 112.79,643.73 113.41,644.06 114.04,644.37 114.66,644.64 115.28,644.89 115.91,645.14 116.53,645.39 117.16,645.63 117.78,645.87 118.4,646.1 119.03,646.32 119.65,646.54 120.28,646.76 120.9,646.97 121.52,647.17 122.15,647.37 122.77,647.56 123.4,647.74 124.02,647.92 124.64,648.09 125.27,648.26 125.89,648.41 126.52,648.56 127.14,648.7 127.76,648.83 128.39,648.96 129.01,649.07 129.64,649.18 130.26,649.29 130.88,649.39 131.51,649.49 132.13,649.59 132.76,649.68 133.38,649.77 134,649.86 134.63,649.95 135.25,650.03 135.88,650.11 136.5,650.19 137.12,650.26 137.75,650.33 138.37,650.4 139,650.47 139.62,650.53 140.24,650.59 140.87,650.65 141.49,650.71 142.12,650.76 142.74,650.81 143.36,650.85 143.99,650.9 144.61,650.94 145.24,650.98 145.86,651.03 146.48,651.07 147.11,651.1 147.73,651.14 148.36,651.18 148.98,651.22 149.6,651.25 150.23,651.28 150.85,651.32 151.48,651.35 152.1,651.38 152.72,651.41 153.35,651.43 153.97,651.46 154.6,651.48 155.22,651.51 155.84,651.53 156.47,651.55 157.09,651.57 157.72,651.58 158.34,651.6 158.96,651.61 159.59,651.63 160.21,651.64 160.84,651.65 161.46,651.28 162.08,651.21 162.71,652.04 163.33,652.02 163.96,651.85 164.58,652.05 165.2,651.87 165.83,651.54 166.45,651.36 167.08,651.37 167.7,652.04 168.32,651.5 168.95,651.63 169.57,651.74 170.2,651.35 170.82,651.59 171.44,651.63 172.07,652.07 172.69,651.73 173.32,651.7 173.94,652.35 174.56,651.9 175.19,652.25 175.81,652.03 176.44,651.45 177.06,651.84 177.68,651.87 178.31,652.22 178.93,651.8 179.56,652.16 180.18,652 180.8,651.69 181.43,652.34 182.05,651.58 182.68,652.31 183.3,651.67 183.92,651.51 184.55,651.72 185.17,652.28 185.8,652.5 186.42,651.54 187.04,652.03 187.67,652.04 188.29,652.35 188.92,651.74 189.54,652.06 190.16,651.91 190.79,652.4 191.41,651.84 192.04,652.53 192.66,651.87 193.28,651.81 193.91,652.3 194.53,652.1 195.16,651.72 195.78,652.25 196.4,651.7 197.03,652.41 197.65,652.32 198.28,652.41 198.9,652.26 199.52,651.99 200.15,652.04 200.77,652.04 201.4,652.54 202.02,651.74 202.64,652.54 203.27,651.69 203.89,651.87 204.52,651.93 205.14,652.57 205.76,652.18 206.39,652.06 207.01,652.57 207.64,651.92 208.26,652.15 208.88,652.23 209.51,652.45 210.13,652.45 210.76,652.35 211.38,652.06 212,652.04 212.63,651.87 213.25,652.56 213.88,652.38 214.5,652.47 215.12,651.9 215.75,652.17 216.37,652.51 217,652.32 217.62,651.87 218.24,652.2 218.87,652.63 219.49,651.99 220.12,651.94 220.74,652.06 221.36,652.46 221.99,652.6 222.61,651.92 223.24,651.92 223.86,652.02 224.48,652.1 225.11,652.3 225.73,651.94 226.36,652.11 226.98,651.97 227.6,652.76 228.23,652.52 228.85,651.89 229.48,652.76 230.1,651.9 230.72,652.18 231.35,652.78 231.97,652.6 232.6,652.54 233.22,652.24 233.84,652.01 234.47,652.45 235.09,651.92 235.72,652.02 236.34,652.21 236.96,651.86 237.59,652.22 238.21,652.62 238.84,652.52 239.46,652.33 240.08,652.47 240.71,652.3 241.33,651.98 241.96,652.44 242.58,652.25 243.2,652.58 243.83,652.75 244.45,652.28 245.08,652.42 245.7,652.6 246.32,652.28 246.95,652.08 247.57,652.58 248.2,652.74 248.82,652.64 249.44,652.56 250.07,652.72 250.69,652.55 251.32,652.51 251.94,652.33 252.56,652.19 253.19,652.5 253.81,651.98 254.44,652.3 255.06,652.66 255.68,652.6 256.31,652.51 256.93,652.14 257.56,652.31 258.18,652.35 258.8,652.51 259.43,652.3 260.05,652.57 260.68,652.83 261.3,652.08 261.92,652.56 262.55,652.68 263.17,652.29 263.8,652.4 264.42,652.88 265.04,651.95 265.67,652.45 266.29,652.07 266.92,652.7 267.54,652.86 268.16,652.44 268.79,652.02 269.41,652.5 270.04,652.46 270.66,652.64 271.28,652.44 271.91,652.57 272.53,652.76 273.16,652.45 273.78,652.34 274.4,652.88 275.03,652.15 275.65,652.62 276.28,652.33 276.9,652.7 277.52,652.07 278.15,652.93 278.77,652.3 279.4,652 280.02,652.22 280.64,652.35 281.27,651.97 281.89,652.37 282.52,652.38 283.14,652.66 283.76,652.31 284.39,652.23 285.01,652.19 285.64,652.71 286.26,652.91 286.88,652.49 287.51,652.19 288.13,652.77 288.76,652.36 289.38,652.18 290,652.1 290.63,652.75 291.25,652.79 291.88,652.61 292.5,652.45 293.12,652.54 293.75,652.21 294.37,652.95 295,652.34 295.62,652.63 296.24,652.81 296.87,652.81 297.49,652.46 298.12,652.29 298.74,652.54 299.36,652.12 299.99,652.83 300.61,652.35 301.24,652.85 301.86,652.27 302.48,652.38 303.11,652.26 303.73,652.43 304.36,652.19 304.98,652.01 305.6,652.73 306.23,652.29 306.85,652.25 307.48,652.31 308.1,652.49 308.72,652.44 309.35,652.65 309.97,652.67 310.6,652.38 311.22,652.94 311.84,652.87 312.47,652.07 313.09,652.85 313.72,652.93 314.34,652.8 314.96,652.16 315.59,652.85 316.21,652.66 316.84,652.04 317.46,652.04 318.08,652.98 318.71,652.68 319.33,652.28 319.96,652.13 320.58,652.17 321.2,652.26 321.83,652.81 322.45,652.38 323.08,652.18 323.7,652.94" fill="none" stroke="#b57bf0" stroke-width="1.2" stroke-linejoin="round" stroke-linecap="butt" />
<line x1="105.3" y1="476" x2="105.3" y2="657.5" stroke="#2f5cf5" stroke-width="1.1" stroke-dasharray="1.2 0.8"/>
<rect x="64" y="477.6" width="163" height="52.3" fill="#fff"/>
<line x1="67.1" y1="484.3" x2="76.1" y2="484.3" stroke="#7b3f3f" stroke-width="1.3" />
<text x="80.5" y="487.2" font-size="8.3" text-anchor="start" fill="#2b2b2b" textLength="143.7" lengthAdjust="spacingAndGlyphs">RAE + DABCO + Cs<tspan font-size="5.6" dy="2">2</tspan><tspan dy="-2">CO</tspan><tspan font-size="5.6" dy="2">3</tspan><tspan dy="-2"> + phthalonitrile</tspan></text>
<line x1="67.1" y1="494.68" x2="76.1" y2="494.68" stroke="#d9a21b" stroke-width="1.3" />
<text x="80.5" y="497.58" font-size="8.3" text-anchor="start" fill="#2b2b2b" textLength="108.2" lengthAdjust="spacingAndGlyphs">RAE + DABCO + phthalonitrile</text>
<line x1="67.1" y1="505.06" x2="76.1" y2="505.06" stroke="#b57bf0" stroke-width="1.3" />
<text x="80.5" y="507.96" font-size="8.3" text-anchor="start" fill="#2b2b2b" textLength="50.4" lengthAdjust="spacingAndGlyphs">RAE + DABCO</text>
<line x1="67.1" y1="515.44" x2="76.1" y2="515.44" stroke="#444444" stroke-width="1.3" />
<text x="80.5" y="518.34" font-size="8.3" text-anchor="start" fill="#2b2b2b" textLength="14.2" lengthAdjust="spacingAndGlyphs">RAE</text>
<line x1="67.1" y1="525.82" x2="76.1" y2="525.82" stroke="#f04a4a" stroke-width="1.3" />
<text x="80.5" y="528.72" font-size="8.3" text-anchor="start" fill="#2b2b2b" textLength="27.6" lengthAdjust="spacingAndGlyphs">DABCO</text>
<line x1="38.2" y1="653.2" x2="42.1" y2="653.2" stroke="#6a6a6a" stroke-width="1" />
<text x="35.1" y="656.15" font-size="8.2" text-anchor="end" fill="#2b2b2b" textLength="5.45" lengthAdjust="spacingAndGlyphs">0</text>
<line x1="40.1" y1="642.08" x2="42.1" y2="642.08" stroke="#6a6a6a" stroke-width="0.8" />
<line x1="40.1" y1="630.95" x2="42.1" y2="630.95" stroke="#6a6a6a" stroke-width="0.8" />
<line x1="40.1" y1="619.83" x2="42.1" y2="619.83" stroke="#6a6a6a" stroke-width="0.8" />
<line x1="38.2" y1="608.7" x2="42.1" y2="608.7" stroke="#6a6a6a" stroke-width="1" />
<text x="35.1" y="611.65" font-size="8.2" text-anchor="end" fill="#2b2b2b" textLength="10.85" lengthAdjust="spacingAndGlyphs">0.1</text>
<line x1="40.1" y1="597.58" x2="42.1" y2="597.58" stroke="#6a6a6a" stroke-width="0.8" />
<line x1="40.1" y1="586.45" x2="42.1" y2="586.45" stroke="#6a6a6a" stroke-width="0.8" />
<line x1="40.1" y1="575.33" x2="42.1" y2="575.33" stroke="#6a6a6a" stroke-width="0.8" />
<line x1="38.2" y1="564.2" x2="42.1" y2="564.2" stroke="#6a6a6a" stroke-width="1" />
<text x="35.1" y="567.15" font-size="8.2" text-anchor="end" fill="#2b2b2b" textLength="12.4" lengthAdjust="spacingAndGlyphs">0.2</text>
<line x1="40.1" y1="553.08" x2="42.1" y2="553.08" stroke="#6a6a6a" stroke-width="0.8" />
<line x1="40.1" y1="541.95" x2="42.1" y2="541.95" stroke="#6a6a6a" stroke-width="0.8" />
<line x1="40.1" y1="530.83" x2="42.1" y2="530.83" stroke="#6a6a6a" stroke-width="0.8" />
<line x1="38.2" y1="519.7" x2="42.1" y2="519.7" stroke="#6a6a6a" stroke-width="1" />
<text x="35.1" y="522.65" font-size="8.2" text-anchor="end" fill="#2b2b2b" textLength="12.4" lengthAdjust="spacingAndGlyphs">0.3</text>
<line x1="40.1" y1="508.58" x2="42.1" y2="508.58" stroke="#6a6a6a" stroke-width="0.8" />
<line x1="40.1" y1="497.45" x2="42.1" y2="497.45" stroke="#6a6a6a" stroke-width="0.8" />
<line x1="40.1" y1="486.33" x2="42.1" y2="486.33" stroke="#6a6a6a" stroke-width="0.8" />
<line x1="38.2" y1="475.2" x2="42.1" y2="475.2" stroke="#6a6a6a" stroke-width="1" />
<text x="35.1" y="478.15" font-size="8.2" text-anchor="end" fill="#2b2b2b" textLength="12.4" lengthAdjust="spacingAndGlyphs">0.4</text>
<line x1="42.9" y1="657.5" x2="42.9" y2="661.7" stroke="#6a6a6a" stroke-width="1" />
<text x="42.9" y="673.3" font-size="8.2" text-anchor="middle" fill="#2b2b2b" textLength="16.35" lengthAdjust="spacingAndGlyphs">350</text>
<line x1="58.5" y1="657.5" x2="58.5" y2="659.7" stroke="#6a6a6a" stroke-width="0.8" />
<line x1="74.1" y1="657.5" x2="74.1" y2="661.7" stroke="#6a6a6a" stroke-width="1" />
<text x="74.1" y="673.3" font-size="8.2" text-anchor="middle" fill="#2b2b2b" textLength="16.35" lengthAdjust="spacingAndGlyphs">400</text>
<line x1="89.7" y1="657.5" x2="89.7" y2="659.7" stroke="#6a6a6a" stroke-width="0.8" />
<line x1="105.3" y1="657.5" x2="105.3" y2="661.7" stroke="#6a6a6a" stroke-width="1" />
<text x="105.3" y="673.3" font-size="8.2" text-anchor="middle" fill="#2b2b2b" textLength="16.35" lengthAdjust="spacingAndGlyphs">450</text>
<line x1="120.9" y1="657.5" x2="120.9" y2="659.7" stroke="#6a6a6a" stroke-width="0.8" />
<line x1="136.5" y1="657.5" x2="136.5" y2="661.7" stroke="#6a6a6a" stroke-width="1" />
<text x="136.5" y="673.3" font-size="8.2" text-anchor="middle" fill="#2b2b2b" textLength="16.35" lengthAdjust="spacingAndGlyphs">500</text>
<line x1="152.1" y1="657.5" x2="152.1" y2="659.7" stroke="#6a6a6a" stroke-width="0.8" />
<line x1="167.7" y1="657.5" x2="167.7" y2="661.7" stroke="#6a6a6a" stroke-width="1" />
<text x="167.7" y="673.3" font-size="8.2" text-anchor="middle" fill="#2b2b2b" textLength="16.35" lengthAdjust="spacingAndGlyphs">550</text>
<line x1="183.3" y1="657.5" x2="183.3" y2="659.7" stroke="#6a6a6a" stroke-width="0.8" />
<line x1="198.9" y1="657.5" x2="198.9" y2="661.7" stroke="#6a6a6a" stroke-width="1" />
<text x="198.9" y="673.3" font-size="8.2" text-anchor="middle" fill="#2b2b2b" textLength="16.35" lengthAdjust="spacingAndGlyphs">600</text>
<line x1="214.5" y1="657.5" x2="214.5" y2="659.7" stroke="#6a6a6a" stroke-width="0.8" />
<line x1="230.1" y1="657.5" x2="230.1" y2="661.7" stroke="#6a6a6a" stroke-width="1" />
<text x="230.1" y="673.3" font-size="8.2" text-anchor="middle" fill="#2b2b2b" textLength="16.35" lengthAdjust="spacingAndGlyphs">650</text>
<line x1="245.7" y1="657.5" x2="245.7" y2="659.7" stroke="#6a6a6a" stroke-width="0.8" />
<line x1="261.3" y1="657.5" x2="261.3" y2="661.7" stroke="#6a6a6a" stroke-width="1" />
<text x="261.3" y="673.3" font-size="8.2" text-anchor="middle" fill="#2b2b2b" textLength="16.35" lengthAdjust="spacingAndGlyphs">700</text>
<line x1="276.9" y1="657.5" x2="276.9" y2="659.7" stroke="#6a6a6a" stroke-width="0.8" />
<line x1="292.5" y1="657.5" x2="292.5" y2="661.7" stroke="#6a6a6a" stroke-width="1" />
<text x="292.5" y="673.3" font-size="8.2" text-anchor="middle" fill="#2b2b2b" textLength="16.35" lengthAdjust="spacingAndGlyphs">750</text>
<line x1="308.1" y1="657.5" x2="308.1" y2="659.7" stroke="#6a6a6a" stroke-width="0.8" />
<line x1="323.7" y1="657.5" x2="323.7" y2="661.7" stroke="#6a6a6a" stroke-width="1" />
<text x="323.7" y="673.3" font-size="8.2" text-anchor="middle" fill="#2b2b2b" textLength="16.35" lengthAdjust="spacingAndGlyphs">800</text>
<text x="183.6" y="689.6" font-size="10.3" text-anchor="middle" fill="#2b2b2b" textLength="81.2" lengthAdjust="spacingAndGlyphs">Wavelength (nm)</text>
<text transform="translate(14.2,567) rotate(-90)" font-size="10.3" text-anchor="middle" fill="#2b2b2b" textLength="56.6" lengthAdjust="spacingAndGlyphs">Absorbance</text>
<text x="0.5" y="475.8" font-size="14" text-anchor="start" fill="#000" font-weight="bold" >e</text>
<polyline points="185.3,619.9 209.74,562.16 228.07,541.35 246.4,530.3 264.73,542.79 283.06,564.33 307.5,614.83" fill="none" stroke="#333" stroke-width="0.9" stroke-linejoin="round" stroke-linecap="butt" />
<path d="M185.3,510.5 H307.5 V621.4" fill="none" stroke="#9a9a9a" stroke-width="0.9"/>
<path d="M185.3,510.5 V621.4 H307.5" fill="none" stroke="#555" stroke-width="1"/>
<line x1="182.3" y1="619.9" x2="185.3" y2="619.9" stroke="#8a8a8a" stroke-width="0.9" />
<text x="180.7" y="622.4" font-size="7.1" text-anchor="end" fill="#2b2b2b" >0</text>
<line x1="183.3" y1="610.85" x2="185.3" y2="610.85" stroke="#8a8a8a" stroke-width="0.8" />
<line x1="182.3" y1="601.8" x2="185.3" y2="601.8" stroke="#8a8a8a" stroke-width="0.9" />
<text x="180.7" y="604.3" font-size="7.1" text-anchor="end" fill="#2b2b2b" >0.01</text>
<line x1="183.3" y1="592.75" x2="185.3" y2="592.75" stroke="#8a8a8a" stroke-width="0.8" />
<line x1="182.3" y1="583.7" x2="185.3" y2="583.7" stroke="#8a8a8a" stroke-width="0.9" />
<text x="180.7" y="586.2" font-size="7.1" text-anchor="end" fill="#2b2b2b" >0.02</text>
<line x1="183.3" y1="574.65" x2="185.3" y2="574.65" stroke="#8a8a8a" stroke-width="0.8" />
<line x1="182.3" y1="565.6" x2="185.3" y2="565.6" stroke="#8a8a8a" stroke-width="0.9" />
<text x="180.7" y="568.1" font-size="7.1" text-anchor="end" fill="#2b2b2b" >0.03</text>
<line x1="183.3" y1="556.55" x2="185.3" y2="556.55" stroke="#8a8a8a" stroke-width="0.8" />
<line x1="182.3" y1="547.5" x2="185.3" y2="547.5" stroke="#8a8a8a" stroke-width="0.9" />
<text x="180.7" y="550" font-size="7.1" text-anchor="end" fill="#2b2b2b" >0.04</text>
<line x1="183.3" y1="538.45" x2="185.3" y2="538.45" stroke="#8a8a8a" stroke-width="0.8" />
<line x1="182.3" y1="529.4" x2="185.3" y2="529.4" stroke="#8a8a8a" stroke-width="0.9" />
<text x="180.7" y="531.9" font-size="7.1" text-anchor="end" fill="#2b2b2b" >0.05</text>
<line x1="183.3" y1="520.35" x2="185.3" y2="520.35" stroke="#8a8a8a" stroke-width="0.8" />
<line x1="182.3" y1="511.3" x2="185.3" y2="511.3" stroke="#8a8a8a" stroke-width="0.9" />
<text x="180.7" y="513.8" font-size="7.1" text-anchor="end" fill="#2b2b2b" >0.06</text>
<line x1="185.3" y1="621.4" x2="185.3" y2="624.4" stroke="#555" stroke-width="0.9" />
<text x="185.3" y="632.1" font-size="7.1" text-anchor="middle" fill="#2b2b2b" >0</text>
<line x1="197.52" y1="621.4" x2="197.52" y2="623.2" stroke="#555" stroke-width="0.8" />
<line x1="209.74" y1="621.4" x2="209.74" y2="624.4" stroke="#555" stroke-width="0.9" />
<text x="209.74" y="632.1" font-size="7.1" text-anchor="middle" fill="#2b2b2b" >0.2</text>
<line x1="221.96" y1="621.4" x2="221.96" y2="623.2" stroke="#555" stroke-width="0.8" />
<line x1="234.18" y1="621.4" x2="234.18" y2="624.4" stroke="#555" stroke-width="0.9" />
<text x="234.18" y="632.1" font-size="7.1" text-anchor="middle" fill="#2b2b2b" >0.4</text>
<line x1="246.4" y1="621.4" x2="246.4" y2="623.2" stroke="#555" stroke-width="0.8" />
<line x1="258.62" y1="621.4" x2="258.62" y2="624.4" stroke="#555" stroke-width="0.9" />
<text x="258.62" y="632.1" font-size="7.1" text-anchor="middle" fill="#2b2b2b" >0.6</text>
<line x1="270.84" y1="621.4" x2="270.84" y2="623.2" stroke="#555" stroke-width="0.8" />
<line x1="283.06" y1="621.4" x2="283.06" y2="624.4" stroke="#555" stroke-width="0.9" />
<text x="283.06" y="632.1" font-size="7.1" text-anchor="middle" fill="#2b2b2b" >0.8</text>
<line x1="295.28" y1="621.4" x2="295.28" y2="623.2" stroke="#555" stroke-width="0.8" />
<line x1="307.5" y1="621.4" x2="307.5" y2="624.4" stroke="#555" stroke-width="0.9" />
<text x="307.5" y="632.1" font-size="7.1" text-anchor="middle" fill="#2b2b2b" >1.0</text>
<text x="245.6" y="641.6" font-size="7.4" text-anchor="middle" fill="#2b2b2b" textLength="54.1" lengthAdjust="spacingAndGlyphs">Molar fraction of</text>
<text x="246.1" y="649.2" font-size="7.4" text-anchor="middle" fill="#2b2b2b" textLength="38.6" lengthAdjust="spacingAndGlyphs">RAE:DABCO</text>
<text transform="translate(158.3,594.3) rotate(-90)" font-size="7.7" fill="#2b2b2b" textLength="38.5" lengthAdjust="spacingAndGlyphs">Absorbance</text>
<text transform="translate(160.3,554.4) rotate(-90)" font-size="5.0" fill="#2b2b2b" textLength="17.2" lengthAdjust="spacingAndGlyphs">450 nm</text>
<defs><linearGradient id="bg1" x1="0" y1="0" x2="0" y2="1"><stop offset="0" stop-color="#d2d2d2"/><stop offset="0.58" stop-color="#d9d9d9"/><stop offset="0.6" stop-color="#e6e6e6"/><stop offset="1" stop-color="#efefef"/></linearGradient><linearGradient id="cap" x1="0" y1="0" x2="1" y2="0"><stop offset="0" stop-color="#a8a298"/><stop offset="0.2" stop-color="#7e786e"/><stop offset="0.6" stop-color="#6a645a"/><stop offset="0.85" stop-color="#a88e62"/><stop offset="1" stop-color="#8a7a5e"/></linearGradient><linearGradient id="liq" x1="0" y1="0" x2="0" y2="1"><stop offset="0" stop-color="#e6e6a2"/><stop offset="1" stop-color="#dadc86"/></linearGradient></defs>
<rect x="275.4" y="481.9" width="40.3" height="56.6" fill="url(#bg1)"/>
<path d="M275.4,538.5 H315.7 V481.9" fill="none" stroke="#a8a8a8" stroke-width="0.8"/>
<path d="M275.4,538.5 V481.9 H315.7" fill="none" stroke="#c4c4c4" stroke-width="0.5"/>
<ellipse cx="287" cy="527" rx="9" ry="3.5" fill="#dcd8d6" opacity="0.5"/>
<path d="M291,495.6 L291,500 Q288.2,501.5 288.2,504 L288.2,527.5 Q288.2,530.2 291,530.2 L303.8,530.2 Q306.5,530.2 306.5,527.5 L306.5,504 Q306.5,501.5 304.5,500 L304.5,495.6 Z" fill="#ffffff" fill-opacity="0.28" stroke="#b9b9b6" stroke-width="0.5"/>
<path d="M287.8,522 Q297.4,518.6 306.9,522 L306.9,527.6 Q306.9,530.3 303.9,530.3 L290.8,530.3 Q287.8,530.3 287.8,527.6 Z" fill="url(#liq)"/>
<ellipse cx="297.4" cy="522.2" rx="8.2" ry="1.6" fill="#eeeeb0" opacity="0.8"/>
<rect x="289.2" y="488.3" width="16.7" height="7.5" rx="1" fill="url(#cap)"/>
<ellipse cx="298.6" cy="488.4" rx="5.6" ry="1.3" fill="#555a62"/>
<line x1="293.5" y1="503" x2="293.5" y2="518" stroke="#ffffff" stroke-width="0.7" opacity="0.6"/>
<polyline points="429.46,596.71 430.09,596.84 430.71,596.98 431.34,597.11 431.96,597.25 432.59,597.38 433.21,597.52 433.84,597.65 434.46,597.79 435.09,597.92 435.72,598.05 436.34,598.18 436.97,598.3 437.59,598.43 438.22,598.56 438.84,598.68 439.47,598.81 440.09,598.93 440.72,599.06 441.35,599.18 441.97,599.31 442.6,599.44 443.22,599.57 443.85,599.71 444.47,599.84 445.1,599.98 445.72,600.13 446.35,600.27 446.98,600.42 447.6,600.58 448.23,600.74 448.85,600.9 449.48,601.07 450.1,601.25 450.73,601.43 451.35,601.61 451.98,601.8 452.6,602 453.23,602.2 453.86,602.4 454.48,602.61 455.11,602.82 455.73,603.04 456.36,603.26 456.98,603.49 457.61,603.72 458.23,603.95 458.86,604.19 459.49,604.43 460.11,604.67 460.74,604.92 461.36,605.17 461.99,605.42 462.61,605.68 463.24,605.94 463.86,606.2 464.49,606.46 465.12,606.73 465.74,607 466.37,607.27 466.99,607.55 467.62,607.84 468.24,608.14 468.87,608.45 469.49,608.78 470.12,609.13 470.74,609.5 471.37,609.88 472,610.29 472.62,610.73 473.25,611.2 473.87,611.71 474.5,612.26 475.12,612.85 475.75,613.47 476.37,614.12 477,614.81 477.63,615.53 478.25,616.28 478.88,617.07 479.5,617.88 480.13,618.73 480.75,619.6 481.38,620.53 482,621.57 482.63,622.72 483.26,623.95 483.88,625.24 484.51,626.59 485.13,627.97 485.76,629.36 486.38,630.74 487.01,632.11 487.63,633.55 488.26,635.04 488.88,636.56 489.51,638.07 490.14,639.57 490.76,641 491.39,642.37 492.01,643.74 492.64,644.95 493.26,645.91 493.89,646.61 494.51,647.01 495.14,647.15 495.77,646.92 496.39,646.48 497.02,645.61 497.64,644.56 498.27,643.3 498.89,641.85 499.52,640.28 500.14,638.65 500.77,636.97 501.4,635.16 502.02,633.22 502.65,631.21 503.27,629.14 503.9,627.04 504.52,624.96 505.15,622.92 505.77,620.94 506.4,619.01 507.02,617.07 507.65,615.14 508.28,613.22 508.9,611.32 509.53,609.44 510.15,607.58 510.78,605.74 511.4,603.93 512.03,602.11 512.65,600.3 513.28,598.52 513.91,596.76 514.53,595.04 515.16,593.37 515.78,591.75 516.41,590.19 517.03,588.64 517.66,587.11 518.28,585.62 518.91,584.17 519.54,582.78 520.16,581.46 520.79,580.22 521.41,579.06 522.04,577.95 522.66,576.88 523.29,575.85 523.91,574.87 524.54,573.94 525.17,573.08 525.79,572.29 526.42,571.57 527.04,570.92 527.67,570.32 528.29,569.76 528.92,569.24 529.54,568.76 530.17,568.32 530.79,567.88 531.42,567.45 532.05,567.04 532.67,566.67 533.3,566.36 533.92,566.12 534.55,565.93 535.17,565.77 535.8,565.62 536.42,565.48 537.05,565.35 537.68,565.23 538.3,565.13 538.93,565.03 539.55,564.93 540.18,564.84 540.8,564.75 541.43,564.66 542.05,564.57 542.68,564.48 543.31,564.39 543.93,564.3 544.56,564.22 545.18,564.14 545.81,564.06 546.43,563.99 547.06,563.91 547.68,563.84 548.31,563.78 548.93,563.71 549.56,563.65 550.19,563.59 550.81,563.53 551.44,563.47 552.06,563.42 552.69,563.36 553.31,563.31 553.94,563.25 554.56,563.2 555.19,563.15 555.82,563.1 556.44,563.05 557.07,563 557.69,562.95 558.32,562.91 558.94,562.86 559.57,562.82 560.19,562.77 560.82,562.73 561.45,562.69 562.07,562.65 562.7,562.6 563.32,562.56 563.95,562.52 564.57,562.48 565.2,562.45 565.82,562.41 566.45,562.37 567.07,562.33 567.7,562.3 568.33,562.26 568.95,562.23 569.58,562.19 570.2,562.16 570.83,562.13 571.45,562.1 572.08,562.07 572.7,562.04 573.33,562.01 573.96,561.98 574.58,561.95 575.21,561.92 575.83,561.89 576.46,561.86 577.08,561.84 577.71,561.81 578.33,561.78 578.96,561.75 579.59,561.72 580.21,561.69 580.84,561.66 581.46,561.63 582.09,561.6 582.71,561.57 583.34,561.54 583.96,561.51 584.59,561.47 585.21,561.44 585.84,561.41 586.47,561.37 587.09,561.34 587.72,561.3 588.34,561.27 588.97,561.24 589.59,561.2 590.22,561.17 590.84,561.13 591.47,561.1 592.1,561.06 592.72,561.03 593.35,560.99 593.97,560.95 594.6,560.92 595.22,560.88 595.85,560.84 596.47,560.8 597.1,560.76 597.73,560.73 598.35,560.69 598.98,560.65 599.6,560.61 600.23,560.57 600.85,560.53 601.48,560.48 602.1,560.44 602.73,560.4 603.36,560.35 603.98,560.31 604.61,560.26 605.23,560.21 605.86,560.17 606.48,560.12 607.11,560.07 607.73,560.03 608.36,559.98 608.98,559.93 609.61,559.88 610.24,559.84 610.86,559.8 611.49,559.75 612.11,559.71 612.74,559.67 613.36,559.63 613.99,559.6 614.61,559.56 615.24,559.52 615.87,559.48 616.49,559.44 617.12,559.4 617.74,559.36 618.37,559.32 618.99,559.28 619.62,559.23 620.24,559.18 620.87,559.14 621.5,559.09 622.12,559.03 622.75,558.98 623.37,558.92 624,558.86 624.62,558.8 625.25,558.73 625.87,558.66 626.5,558.58 627.12,558.5 627.75,558.41 628.38,558.3 629,558.17 629.63,558.02 630.25,557.87 630.88,557.7 631.5,557.52 632.13,557.35 632.75,557.17 633.38,556.99" fill="none" stroke="#3f3f3f" stroke-width="1.4" stroke-linejoin="round" stroke-linecap="butt" stroke-linecap="round"/>
<polyline points="429.46,596.71 430.09,596.39 430.71,596.07 431.34,595.76 431.96,595.46 432.59,595.17 433.21,594.91 433.84,594.69 434.46,594.49 435.09,594.3 435.72,594.12 436.34,593.95 436.97,593.78 437.59,593.62 438.22,593.47 438.84,593.32 439.47,593.17 440.09,593.04 440.72,592.9 441.35,592.77 441.97,592.65 442.6,592.52 443.22,592.4 443.85,592.29 444.47,592.17 445.1,592.06 445.72,591.95 446.35,591.84 446.98,591.73 447.6,591.62 448.23,591.51 448.85,591.4 449.48,591.29 450.1,591.18 450.73,591.07 451.35,590.97 451.98,590.87 452.6,590.77 453.23,590.67 453.86,590.57 454.48,590.48 455.11,590.39 455.73,590.29 456.36,590.2 456.98,590.11 457.61,590.02 458.23,589.93 458.86,589.84 459.49,589.76 460.11,589.67 460.74,589.58 461.36,589.5 461.99,589.41 462.61,589.33 463.24,589.24 463.86,589.16 464.49,589.08 465.12,588.99 465.74,588.91 466.37,588.83 466.99,588.76 467.62,588.68 468.24,588.6 468.87,588.53 469.49,588.45 470.12,588.38 470.74,588.3 471.37,588.23 472,588.15 472.62,588.07 473.25,588 473.87,587.92 474.5,587.85 475.12,587.77 475.75,587.69 476.37,587.61 477,587.53 477.63,587.44 478.25,587.36 478.88,587.28 479.5,587.2 480.13,587.13 480.75,587.05 481.38,586.98 482,586.9 482.63,586.83 483.26,586.75 483.88,586.67 484.51,586.59 485.13,586.5 485.76,586.41 486.38,586.31 487.01,586.21 487.63,586.09 488.26,585.97 488.88,585.84 489.51,585.7 490.14,585.54 490.76,585.36 491.39,585.15 492.01,584.92 492.64,584.67 493.26,584.38 493.89,584.07 494.51,583.72 495.14,583.34 495.77,582.94 496.39,582.45 497.02,581.79 497.64,580.98 498.27,580.06 498.89,579.07 499.52,578.05 500.14,577.05 500.77,576.08 501.4,575.1 502.02,574.1 502.65,573.05 503.27,571.93 503.9,570.73 504.52,569.42 505.15,567.95 505.77,566.3 506.4,564.53 507.02,562.65 507.65,560.7 508.28,558.71 508.9,556.72 509.53,554.75 510.15,552.83 510.78,550.89 511.4,548.93 512.03,546.95 512.65,544.95 513.28,542.94 513.91,540.93 514.53,538.91 515.16,536.9 515.78,534.89 516.41,532.85 517.03,530.79 517.66,528.73 518.28,526.69 518.91,524.7 519.54,522.75 520.16,520.86 520.79,518.96 521.41,517.06 522.04,515.22 522.66,513.46 523.29,511.82 523.91,510.34 524.54,508.97 525.17,507.64 525.79,506.4 526.42,505.32 527.04,504.46 527.67,503.84 528.29,503.34 528.92,502.96 529.54,502.67 530.17,502.43 530.79,502.34 531.42,502.54 532.05,502.93 532.67,503.42 533.3,504.15 533.92,505.09 534.55,506.17 535.17,507.35 535.8,508.63 536.42,510.22 537.05,512.02 537.68,513.91 538.3,515.74 538.93,517.39 539.55,518.95 540.18,520.47 540.8,521.95 541.43,523.35 542.05,524.65 542.68,525.83 543.31,526.95 543.93,528.01 544.56,529.03 545.18,529.99 545.81,530.88 546.43,531.71 547.06,532.47 547.68,533.18 548.31,533.86 548.93,534.51 549.56,535.13 550.19,535.72 550.81,536.28 551.44,536.82 552.06,537.34 552.69,537.83 553.31,538.3 553.94,538.75 554.56,539.19 555.19,539.61 555.82,540.03 556.44,540.43 557.07,540.83 557.69,541.21 558.32,541.57 558.94,541.93 559.57,542.27 560.19,542.6 560.82,542.92 561.45,543.22 562.07,543.51 562.7,543.78 563.32,544.04 563.95,544.29 564.57,544.53 565.2,544.76 565.82,544.99 566.45,545.2 567.07,545.42 567.7,545.62 568.33,545.82 568.95,546.02 569.58,546.2 570.2,546.39 570.83,546.56 571.45,546.73 572.08,546.9 572.7,547.06 573.33,547.21 573.96,547.36 574.58,547.5 575.21,547.63 575.83,547.77 576.46,547.89 577.08,548.01 577.71,548.12 578.33,548.23 578.96,548.33 579.59,548.43 580.21,548.53 580.84,548.63 581.46,548.73 582.09,548.82 582.71,548.92 583.34,549.02 583.96,549.12 584.59,549.22 585.21,549.33 585.84,549.44 586.47,549.55 587.09,549.66 587.72,549.77 588.34,549.88 588.97,549.99 589.59,550.1 590.22,550.21 590.84,550.32 591.47,550.43 592.1,550.55 592.72,550.66 593.35,550.77 593.97,550.88 594.6,550.99 595.22,551.1 595.85,551.21 596.47,551.32 597.1,551.43 597.73,551.54 598.35,551.64 598.98,551.75 599.6,551.85 600.23,551.96 600.85,552.06 601.48,552.16 602.1,552.26 602.73,552.36 603.36,552.46 603.98,552.56 604.61,552.66 605.23,552.76 605.86,552.86 606.48,552.95 607.11,553.05 607.73,553.14 608.36,553.23 608.98,553.32 609.61,553.41 610.24,553.5 610.86,553.58 611.49,553.66 612.11,553.74 612.74,553.82 613.36,553.9 613.99,553.97 614.61,554.05 615.24,554.13 615.87,554.2 616.49,554.28 617.12,554.35 617.74,554.43 618.37,554.51 618.99,554.59 619.62,554.67 620.24,554.75 620.87,554.84 621.5,554.93 622.12,555.02 622.75,555.11 623.37,555.21 624,555.31 624.62,555.41 625.25,555.51 625.87,555.61 626.5,555.72 627.12,555.82 627.75,555.93 628.38,556.04 629,556.16 629.63,556.27 630.25,556.39 630.88,556.5 631.5,556.62 632.13,556.74 632.75,556.86 633.38,556.99" fill="none" stroke="#3f3f3f" stroke-width="1.4" stroke-linejoin="round" stroke-linecap="butt" stroke-linecap="round"/>
<polyline points="413.5,589.88 414.12,589.96 414.75,590.05 415.37,590.13 415.99,590.21 416.62,590.3 417.24,590.38 417.86,590.46 418.49,590.54 419.11,590.62 419.74,590.7 420.36,590.78 420.98,590.85 421.61,590.92 422.23,590.99 422.86,591.06 423.48,591.12 424.1,591.19 424.73,591.25 425.35,591.32 425.98,591.38 426.6,591.45 427.22,591.51 427.85,591.58 428.47,591.65 429.1,591.72 429.72,591.79 430.34,591.86 430.97,591.94 431.59,592.02 432.22,592.11 432.84,592.2 433.46,592.29 434.09,592.39 434.71,592.5 435.33,592.61 435.96,592.73 436.58,592.86 437.21,592.99 437.83,593.13 438.45,593.28 439.08,593.43 439.7,593.59 440.33,593.75 440.95,593.92 441.57,594.1 442.2,594.28 442.82,594.46 443.45,594.65 444.07,594.84 444.69,595.04 445.32,595.24 445.94,595.45 446.57,595.65 447.19,595.87 447.81,596.08 448.44,596.3 449.06,596.52 449.69,596.75 450.31,597 450.93,597.25 451.56,597.51 452.18,597.78 452.8,598.06 453.43,598.34 454.05,598.64 454.68,598.94 455.3,599.25 455.92,599.57 456.55,599.89 457.17,600.22 457.8,600.56 458.42,600.9 459.04,601.24 459.67,601.6 460.29,601.95 460.92,602.31 461.54,602.68 462.16,603.04 462.79,603.41 463.41,603.79 464.04,604.16 464.66,604.53 465.28,604.91 465.91,605.28 466.53,605.67 467.16,606.06 467.78,606.47 468.4,606.88 469.03,607.31 469.65,607.76 470.27,608.23 470.9,608.72 471.52,609.23 472.15,609.77 472.77,610.33 473.39,610.93 474.02,611.57 474.64,612.29 475.27,613.09 475.89,613.96 476.51,614.88 477.14,615.85 477.76,616.86 478.39,617.9 479.01,618.97 479.63,620.05 480.26,621.24 480.88,622.57 481.51,623.97 482.13,625.37 482.75,626.71 483.38,627.92 484,628.97 484.63,629.88 485.25,630.37 485.87,630.69 486.5,630.74 487.12,630.48 487.74,630.04 488.37,629.47 488.99,628.56 489.62,627.49 490.24,626.36 490.86,625.1 491.49,623.73 492.11,622.28 492.74,620.76 493.36,619.21 493.98,617.65 494.61,616.09 495.23,614.57 495.86,613.06 496.48,611.53 497.1,609.99 497.73,608.43 498.35,606.86 498.98,605.27 499.6,603.67 500.22,602.06 500.85,600.42 501.47,598.74 502.1,597.02 502.72,595.3 503.34,593.57 503.97,591.85 504.59,590.17 505.21,588.52 505.84,586.94 506.46,585.36 507.09,583.78 507.71,582.21 508.33,580.68 508.96,579.2 509.58,577.79 510.21,576.45 510.83,575.22 511.45,574.09 512.08,573.04 512.7,572.06 513.33,571.13 513.95,570.22 514.57,569.31 515.2,568.46 515.82,567.77 516.45,567.27 517.07,566.83 517.69,566.45 518.32,566.11 518.94,565.82 519.57,565.56 520.19,565.33 520.81,565.13 521.44,564.95 522.06,564.79 522.68,564.65 523.31,564.53 523.93,564.42 524.56,564.31 525.18,564.22 525.8,564.13 526.43,564.05 527.05,563.97 527.68,563.9 528.3,563.84 528.92,563.78 529.55,563.72 530.17,563.67 530.8,563.62 531.42,563.57 532.04,563.52 532.67,563.48 533.29,563.44 533.92,563.39 534.54,563.35 535.16,563.32 535.79,563.28 536.41,563.24 537.04,563.2 537.66,563.17 538.28,563.13 538.91,563.09 539.53,563.05 540.15,563.01 540.78,562.97 541.4,562.93 542.03,562.89 542.65,562.85 543.27,562.81 543.9,562.77 544.52,562.73 545.15,562.69 545.77,562.65 546.39,562.61 547.02,562.57 547.64,562.53 548.27,562.49 548.89,562.45 549.51,562.41 550.14,562.37 550.76,562.33 551.39,562.29 552.01,562.25 552.63,562.21 553.26,562.18 553.88,562.14 554.51,562.1 555.13,562.06 555.75,562.03 556.38,561.99 557,561.95 557.62,561.92 558.25,561.88 558.87,561.85 559.5,561.81 560.12,561.78 560.74,561.74 561.37,561.71 561.99,561.68 562.62,561.65 563.24,561.62 563.86,561.59 564.49,561.57 565.11,561.54 565.74,561.51 566.36,561.48 566.98,561.46 567.61,561.43 568.23,561.41 568.86,561.38 569.48,561.35 570.1,561.33 570.73,561.3 571.35,561.27 571.97,561.25 572.6,561.22 573.22,561.19 573.85,561.16 574.47,561.13 575.09,561.1 575.72,561.06 576.34,561.03 576.97,560.99 577.59,560.95 578.21,560.91 578.84,560.87 579.46,560.83 580.09,560.79 580.71,560.74 581.33,560.69 581.96,560.64 582.58,560.59 583.21,560.53 583.83,560.47 584.45,560.41 585.08,560.35 585.7,560.29 586.33,560.22 586.95,560.14 587.57,560.07 588.2,559.99 588.82,559.91 589.44,559.83 590.07,559.74 590.69,559.65 591.32,559.55 591.94,559.46 592.56,559.35 593.19,559.25 593.81,559.14 594.44,559.02 595.06,558.91 595.68,558.78 596.31,558.65 596.93,558.49 597.56,558.31 598.18,558.11 598.8,557.9 599.43,557.67 600.05,557.43 600.68,557.18 601.3,556.93 601.92,556.68" fill="none" stroke="#4a7ec4" stroke-width="1.6" stroke-linejoin="round" stroke-linecap="butt" stroke-linecap="round"/>
<polyline points="413.5,589.88 414.12,589.44 414.75,589.01 415.37,588.59 415.99,588.18 416.62,587.79 417.24,587.42 417.86,587.08 418.49,586.77 419.11,586.51 419.74,586.29 420.36,586.09 420.98,585.9 421.61,585.72 422.23,585.54 422.86,585.38 423.48,585.22 424.1,585.06 424.73,584.92 425.35,584.78 425.98,584.64 426.6,584.51 427.22,584.39 427.85,584.27 428.47,584.16 429.1,584.05 429.72,583.95 430.34,583.85 430.97,583.75 431.59,583.65 432.22,583.56 432.84,583.48 433.46,583.39 434.09,583.31 434.71,583.23 435.33,583.15 435.96,583.07 436.58,583 437.21,582.93 437.83,582.86 438.45,582.79 439.08,582.73 439.7,582.66 440.33,582.6 440.95,582.54 441.57,582.49 442.2,582.43 442.82,582.37 443.45,582.32 444.07,582.27 444.69,582.21 445.32,582.16 445.94,582.11 446.57,582.06 447.19,582.01 447.81,581.96 448.44,581.91 449.06,581.87 449.69,581.82 450.31,581.77 450.93,581.73 451.56,581.69 452.18,581.65 452.8,581.61 453.43,581.58 454.05,581.54 454.68,581.5 455.3,581.47 455.92,581.43 456.55,581.39 457.17,581.36 457.8,581.32 458.42,581.28 459.04,581.24 459.67,581.2 460.29,581.16 460.92,581.12 461.54,581.07 462.16,581.02 462.79,580.97 463.41,580.92 464.04,580.87 464.66,580.81 465.28,580.75 465.91,580.7 466.53,580.64 467.16,580.58 467.78,580.51 468.4,580.45 469.03,580.38 469.65,580.31 470.27,580.24 470.9,580.16 471.52,580.08 472.15,580 472.77,579.91 473.39,579.82 474.02,579.73 474.64,579.63 475.27,579.52 475.89,579.41 476.51,579.29 477.14,579.17 477.76,579.04 478.39,578.9 479.01,578.74 479.63,578.56 480.26,578.35 480.88,578.12 481.51,577.87 482.13,577.59 482.75,577.29 483.38,576.97 484,576.63 484.63,576.26 485.25,575.83 485.87,575.28 486.5,574.65 487.12,573.97 487.74,573.28 488.37,572.59 488.99,571.88 489.62,571.11 490.24,570.24 490.86,569.23 491.49,568.05 492.11,566.75 492.74,565.35 493.36,563.88 493.98,562.36 494.61,560.82 495.23,559.29 495.86,557.8 496.48,556.31 497.1,554.78 497.73,553.22 498.35,551.64 498.98,550.05 499.6,548.48 500.22,546.92 500.85,545.4 501.47,543.92 502.1,542.52 502.72,541.16 503.34,539.81 503.97,538.44 504.59,537 505.21,535.47 505.84,533.8 506.46,532.05 507.09,530.27 507.71,528.35 508.33,526.35 508.96,524.34 509.58,522.43 510.21,520.7 510.83,519.22 511.45,518.02 512.08,516.91 512.7,515.92 513.33,515.05 513.95,514.31 514.57,513.72 515.2,513.25 515.82,512.94 516.45,512.73 517.07,512.8 517.69,513.11 518.32,513.56 518.94,514.3 519.57,515.2 520.19,516.19 520.81,517.37 521.44,518.67 522.06,519.98 522.68,521.22 523.31,522.45 523.93,523.69 524.56,524.92 525.18,526.13 525.8,527.29 526.43,528.43 527.05,529.56 527.68,530.68 528.3,531.74 528.92,532.73 529.55,533.62 530.17,534.44 530.8,535.23 531.42,535.99 532.04,536.71 532.67,537.39 533.29,538.04 533.92,538.66 534.54,539.24 535.16,539.78 535.79,540.29 536.41,540.78 537.04,541.25 537.66,541.7 538.28,542.14 538.91,542.55 539.53,542.96 540.15,543.34 540.78,543.71 541.4,544.07 542.03,544.41 542.65,544.74 543.27,545.06 543.9,545.37 544.52,545.66 545.15,545.96 545.77,546.24 546.39,546.52 547.02,546.79 547.64,547.05 548.27,547.3 548.89,547.55 549.51,547.79 550.14,548.02 550.76,548.24 551.39,548.46 552.01,548.67 552.63,548.87 553.26,549.06 553.88,549.25 554.51,549.43 555.13,549.61 555.75,549.78 556.38,549.95 557,550.12 557.62,550.28 558.25,550.44 558.87,550.6 559.5,550.75 560.12,550.89 560.74,551.04 561.37,551.18 561.99,551.31 562.62,551.44 563.24,551.56 563.86,551.68 564.49,551.8 565.11,551.91 565.74,552.01 566.36,552.1 566.98,552.2 567.61,552.28 568.23,552.36 568.86,552.44 569.48,552.52 570.1,552.6 570.73,552.67 571.35,552.74 571.97,552.8 572.6,552.87 573.22,552.93 573.85,552.99 574.47,553.05 575.09,553.11 575.72,553.17 576.34,553.22 576.97,553.28 577.59,553.33 578.21,553.39 578.84,553.44 579.46,553.5 580.09,553.55 580.71,553.6 581.33,553.66 581.96,553.71 582.58,553.77 583.21,553.83 583.83,553.89 584.45,553.95 585.08,554.01 585.7,554.06 586.33,554.12 586.95,554.17 587.57,554.21 588.2,554.25 588.82,554.29 589.44,554.33 590.07,554.37 590.69,554.41 591.32,554.45 591.94,554.49 592.56,554.53 593.19,554.57 593.81,554.62 594.44,554.67 595.06,554.73 595.68,554.8 596.31,554.87 596.93,554.95 597.56,555.03 598.18,555.13 598.8,555.23 599.43,555.34 600.05,555.47 600.68,555.75 601.3,556.2 601.92,556.68" fill="none" stroke="#4a7ec4" stroke-width="1.6" stroke-linejoin="round" stroke-linecap="butt" stroke-linecap="round"/>
<polyline points="460.45,580.92 461.07,580.88 461.7,580.85 462.32,580.81 462.95,580.78 463.57,580.75 464.2,580.72 464.82,580.69 465.45,580.67 466.07,580.65 466.7,580.63 467.32,580.61 467.95,580.59 468.57,580.58 469.2,580.57 469.82,580.57 470.45,580.57 471.07,580.57 471.7,580.57 472.32,580.58 472.95,580.58 473.57,580.6 474.2,580.61 474.82,580.62 475.45,580.64 476.07,580.66 476.7,580.68 477.32,580.7 477.95,580.72 478.57,580.75 479.2,580.77 479.82,580.8 480.45,580.82 481.07,580.85 481.7,580.87 482.32,580.9 482.95,580.93 483.57,580.95 484.2,580.98 484.82,581 485.45,581.03 486.07,581.05 486.7,581.07 487.32,581.1 487.95,581.13 488.57,581.15 489.2,581.18 489.82,581.21 490.45,581.24 491.07,581.26 491.7,581.29 492.32,581.32 492.95,581.35 493.57,581.39 494.2,581.42 494.83,581.45 495.45,581.48 496.08,581.51 496.7,581.55 497.33,581.58 497.95,581.61 498.58,581.65 499.2,581.68 499.83,581.72 500.45,581.76 501.08,581.79 501.7,581.83 502.33,581.87 502.95,581.9 503.58,581.94 504.2,581.98 504.83,582.02 505.45,582.06 506.08,582.1 506.7,582.14 507.33,582.18 507.95,582.22 508.58,582.26 509.2,582.3 509.83,582.34 510.45,582.38 511.08,582.43 511.7,582.47 512.33,582.52 512.95,582.56 513.58,582.61 514.2,582.66 514.83,582.71 515.45,582.76 516.08,582.81 516.7,582.86 517.33,582.91 517.95,582.97 518.58,583.02 519.2,583.08 519.83,583.14 520.45,583.2 521.08,583.26 521.7,583.32 522.33,583.39 522.95,583.46 523.58,583.53 524.2,583.62 524.83,583.7 525.45,583.79 526.08,583.89 526.7,583.99 527.33,584.08 527.95,584.18 528.58,584.28 529.2,584.38 529.83,584.47 530.45,584.57 531.08,584.67 531.7,584.79 532.33,584.91 532.95,585.03 533.58,585.16 534.2,585.28 534.83,585.39 535.45,585.49 536.08,585.58 536.7,585.65 537.33,585.7 537.95,585.72 538.58,585.72 539.2,585.65 539.83,585.54 540.45,585.39 541.08,585.21 541.7,585.01 542.33,584.79 542.95,584.57 543.58,584.36 544.2,584.17 544.83,584 545.45,583.87 546.08,583.74 546.7,583.6 547.33,583.47 547.95,583.33 548.58,583.2 549.2,583.09 549.83,582.98 550.45,582.9 551.08,582.84 551.7,582.8 552.33,582.79 552.95,582.81 553.58,582.84 554.2,582.88 554.83,582.94 555.45,583.01 556.08,583.1 556.7,583.19 557.33,583.29 557.95,583.4 558.58,583.52 559.2,583.65 559.83,583.77 560.45,583.91 561.08,584.06 561.7,584.25 562.33,584.49 562.95,584.75 563.58,585.04 564.21,585.36 564.83,585.7 565.46,586.06 566.08,586.43 566.71,586.82 567.33,587.21 567.96,587.6 568.58,588 569.21,588.41 569.83,588.87 570.46,589.36 571.08,589.87 571.71,590.4 572.33,590.95 572.96,591.49 573.58,592.04 574.21,592.57 574.83,593.11 575.46,593.72 576.08,594.3 576.71,594.77 577.33,595.05 577.96,595.28 578.58,595.45 579.21,595.49 579.83,595.41 580.46,595.24 581.08,595.05 581.71,594.8 582.33,594.47 582.96,594.06 583.58,593.54 584.21,592.83 584.83,591.95 585.46,590.96 586.08,589.88 586.71,588.77 587.33,587.64 587.96,586.56 588.58,585.54 589.21,584.53 589.83,583.49 590.46,582.43 591.08,581.36 591.71,580.31 592.33,579.28 592.96,578.29 593.58,577.35 594.21,576.48 594.83,575.64 595.46,574.8 596.08,573.96 596.71,573.15 597.33,572.38 597.96,571.67 598.58,571.02 599.21,570.47 599.83,570.02 600.46,569.66 601.08,569.33 601.71,569.01 602.33,568.72 602.96,568.46 603.58,568.23 604.21,568.04 604.83,567.88 605.46,567.76 606.08,567.69 606.71,567.63 607.33,567.57 607.96,567.52 608.58,567.47 609.21,567.42 609.83,567.38 610.46,567.35 611.08,567.31 611.71,567.29 612.33,567.26 612.96,567.24 613.58,567.23 614.21,567.21 614.83,567.2 615.46,567.2 616.08,567.19 616.71,567.18 617.33,567.18 617.96,567.17 618.58,567.17 619.21,567.17 619.83,567.16 620.46,567.16 621.08,567.16 621.71,567.15 622.33,567.15 622.96,567.15 623.58,567.15 624.21,567.14 624.83,567.14 625.46,567.14 626.08,567.14 626.71,567.13 627.33,567.13 627.96,567.13 628.58,567.12 629.21,567.12 629.83,567.11 630.46,567.1 631.08,567.1 631.71,567.09 632.34,567.08 632.96,567.07 633.59,567.06 634.21,567.05 634.84,567.04 635.46,567.03 636.09,567.02 636.71,567 637.34,566.99 637.96,566.98 638.59,566.96 639.21,566.95 639.84,566.93 640.46,566.92 641.09,566.9 641.71,566.88 642.34,566.86 642.96,566.85 643.59,566.83 644.21,566.81 644.84,566.79 645.46,566.77 646.09,566.75 646.71,566.72 647.34,566.7 647.96,566.68 648.59,566.65 649.21,566.62 649.84,566.6 650.46,566.56 651.09,566.53 651.71,566.5 652.34,566.46 652.96,566.43 653.59,566.39 654.21,566.34 654.84,566.3 655.46,566.25 656.09,566.2 656.71,566.15 657.34,566.09 657.96,566.04 658.59,565.98 659.21,565.9 659.84,565.81 660.46,565.71 661.09,565.59 661.71,565.47 662.34,565.33 662.96,565.19 663.59,565.04 664.21,564.89 664.84,564.73 665.46,564.58" fill="none" stroke="#3caf6a" stroke-width="1.3" stroke-linejoin="round" stroke-linecap="butt" stroke-linecap="round"/>
<polyline points="460.45,580.92 461.07,580.72 461.7,580.53 462.32,580.34 462.95,580.15 463.57,579.96 464.2,579.78 464.82,579.61 465.45,579.44 466.07,579.27 466.7,579.12 467.32,578.97 467.95,578.83 468.57,578.7 469.2,578.58 469.82,578.47 470.45,578.36 471.07,578.27 471.7,578.18 472.32,578.1 472.95,578.01 473.57,577.93 474.2,577.85 474.82,577.78 475.45,577.7 476.07,577.63 476.7,577.56 477.32,577.5 477.95,577.43 478.57,577.37 479.2,577.31 479.82,577.26 480.45,577.2 481.07,577.15 481.7,577.1 482.32,577.06 482.95,577.01 483.57,576.97 484.2,576.93 484.82,576.9 485.45,576.87 486.07,576.83 486.7,576.81 487.32,576.78 487.95,576.75 488.57,576.72 489.2,576.7 489.82,576.68 490.45,576.65 491.07,576.63 491.7,576.61 492.32,576.59 492.95,576.57 493.57,576.55 494.2,576.53 494.83,576.52 495.45,576.5 496.08,576.48 496.7,576.46 497.33,576.45 497.95,576.43 498.58,576.41 499.2,576.4 499.83,576.38 500.45,576.36 501.08,576.34 501.7,576.32 502.33,576.31 502.95,576.29 503.58,576.27 504.2,576.24 504.83,576.22 505.45,576.2 506.08,576.18 506.7,576.15 507.33,576.13 507.95,576.11 508.58,576.09 509.2,576.07 509.83,576.05 510.45,576.03 511.08,576 511.7,575.98 512.33,575.96 512.95,575.94 513.58,575.92 514.2,575.9 514.83,575.87 515.45,575.85 516.08,575.83 516.7,575.81 517.33,575.79 517.95,575.76 518.58,575.74 519.2,575.71 519.83,575.69 520.45,575.67 521.08,575.64 521.7,575.61 522.33,575.59 522.95,575.56 523.58,575.53 524.2,575.51 524.83,575.48 525.45,575.45 526.08,575.42 526.7,575.39 527.33,575.35 527.95,575.32 528.58,575.29 529.2,575.25 529.83,575.22 530.45,575.18 531.08,575.14 531.7,575.1 532.33,575.05 532.95,575 533.58,574.95 534.2,574.89 534.83,574.83 535.45,574.77 536.08,574.71 536.7,574.65 537.33,574.58 537.95,574.51 538.58,574.45 539.2,574.38 539.83,574.3 540.45,574.23 541.08,574.16 541.7,574.09 542.33,574.01 542.95,573.94 543.58,573.86 544.2,573.79 544.83,573.71 545.45,573.64 546.08,573.57 546.7,573.5 547.33,573.43 547.95,573.36 548.58,573.29 549.2,573.22 549.83,573.16 550.45,573.09 551.08,573.03 551.7,572.97 552.33,572.92 552.95,572.86 553.58,572.81 554.2,572.76 554.83,572.72 555.45,572.67 556.08,572.63 556.7,572.59 557.33,572.55 557.95,572.52 558.58,572.48 559.2,572.45 559.83,572.41 560.45,572.38 561.08,572.35 561.7,572.32 562.33,572.29 562.95,572.27 563.58,572.24 564.21,572.21 564.83,572.18 565.46,572.15 566.08,572.12 566.71,572.09 567.33,572.06 567.96,572.03 568.58,571.99 569.21,571.96 569.83,571.92 570.46,571.88 571.08,571.84 571.71,571.8 572.33,571.76 572.96,571.71 573.58,571.66 574.21,571.61 574.83,571.56 575.46,571.5 576.08,571.44 576.71,571.38 577.33,571.31 577.96,571.24 578.58,571.16 579.21,571.09 579.83,570.97 580.46,570.82 581.08,570.63 581.71,570.41 582.33,570.16 582.96,569.9 583.58,569.62 584.21,569.33 584.83,569.05 585.46,568.76 586.08,568.48 586.71,568.22 587.33,567.98 587.96,567.76 588.58,567.58 589.21,567.41 589.83,567.23 590.46,567.06 591.08,566.9 591.71,566.73 592.33,566.58 592.96,566.43 593.58,566.29 594.21,566.16 594.83,566.05 595.46,565.94 596.08,565.85 596.71,565.78 597.33,565.71 597.96,565.65 598.58,565.58 599.21,565.52 599.83,565.46 600.46,565.41 601.08,565.35 601.71,565.3 602.33,565.25 602.96,565.2 603.58,565.16 604.21,565.12 604.83,565.08 605.46,565.04 606.08,565.01 606.71,564.98 607.33,564.96 607.96,564.93 608.58,564.91 609.21,564.89 609.83,564.88 610.46,564.87 611.08,564.86 611.71,564.85 612.33,564.84 612.96,564.83 613.58,564.82 614.21,564.81 614.83,564.8 615.46,564.79 616.08,564.79 616.71,564.78 617.33,564.77 617.96,564.76 618.58,564.76 619.21,564.75 619.83,564.75 620.46,564.74 621.08,564.73 621.71,564.73 622.33,564.72 622.96,564.72 623.58,564.72 624.21,564.71 624.83,564.71 625.46,564.7 626.08,564.7 626.71,564.7 627.33,564.69 627.96,564.69 628.58,564.69 629.21,564.68 629.83,564.68 630.46,564.68 631.08,564.67 631.71,564.67 632.34,564.67 632.96,564.66 633.59,564.66 634.21,564.66 634.84,564.66 635.46,564.65 636.09,564.65 636.71,564.65 637.34,564.65 637.96,564.64 638.59,564.64 639.21,564.64 639.84,564.63 640.46,564.63 641.09,564.63 641.71,564.63 642.34,564.63 642.96,564.62 643.59,564.62 644.21,564.62 644.84,564.62 645.46,564.61 646.09,564.61 646.71,564.61 647.34,564.61 647.96,564.61 648.59,564.6 649.21,564.6 649.84,564.6 650.46,564.6 651.09,564.6 651.71,564.59 652.34,564.59 652.96,564.59 653.59,564.59 654.21,564.59 654.84,564.59 655.46,564.59 656.09,564.59 656.71,564.58 657.34,564.58 657.96,564.58 658.59,564.58 659.21,564.58 659.84,564.58 660.46,564.58 661.09,564.58 661.71,564.58 662.34,564.58 662.96,564.58 663.59,564.58 664.21,564.58 664.84,564.58 665.46,564.58" fill="none" stroke="#3caf6a" stroke-width="1.3" stroke-linejoin="round" stroke-linecap="butt" stroke-linecap="round"/>
<path d="M395.5,476 H677 V657.5 H395.5 Z" fill="none" stroke="#6a6a6a" stroke-width="1"/>
<line x1="393.1" y1="652.62" x2="395.5" y2="652.62" stroke="#6a6a6a" stroke-width="0.8" />
<line x1="391" y1="647.56" x2="395.5" y2="647.56" stroke="#6a6a6a" stroke-width="1" />
<text x="386.7" y="650.51" font-size="8.2" text-anchor="end" fill="#2b2b2b" textLength="15.45" lengthAdjust="spacingAndGlyphs">−1.6</text>
<line x1="393.1" y1="642.5" x2="395.5" y2="642.5" stroke="#6a6a6a" stroke-width="0.8" />
<line x1="393.1" y1="637.44" x2="395.5" y2="637.44" stroke="#6a6a6a" stroke-width="0.8" />
<line x1="393.1" y1="632.38" x2="395.5" y2="632.38" stroke="#6a6a6a" stroke-width="0.8" />
<line x1="391" y1="627.32" x2="395.5" y2="627.32" stroke="#6a6a6a" stroke-width="1" />
<text x="386.7" y="630.27" font-size="8.2" text-anchor="end" fill="#2b2b2b" textLength="15.45" lengthAdjust="spacingAndGlyphs">−1.2</text>
<line x1="393.1" y1="622.26" x2="395.5" y2="622.26" stroke="#6a6a6a" stroke-width="0.8" />
<line x1="393.1" y1="617.2" x2="395.5" y2="617.2" stroke="#6a6a6a" stroke-width="0.8" />
<line x1="393.1" y1="612.14" x2="395.5" y2="612.14" stroke="#6a6a6a" stroke-width="0.8" />
<line x1="391" y1="607.08" x2="395.5" y2="607.08" stroke="#6a6a6a" stroke-width="1" />
<text x="386.7" y="610.03" font-size="8.2" text-anchor="end" fill="#2b2b2b" textLength="17" lengthAdjust="spacingAndGlyphs">−0.8</text>
<line x1="393.1" y1="602.02" x2="395.5" y2="602.02" stroke="#6a6a6a" stroke-width="0.8" />
<line x1="393.1" y1="596.96" x2="395.5" y2="596.96" stroke="#6a6a6a" stroke-width="0.8" />
<line x1="393.1" y1="591.9" x2="395.5" y2="591.9" stroke="#6a6a6a" stroke-width="0.8" />
<line x1="391" y1="586.84" x2="395.5" y2="586.84" stroke="#6a6a6a" stroke-width="1" />
<text x="386.7" y="589.79" font-size="8.2" text-anchor="end" fill="#2b2b2b" textLength="17" lengthAdjust="spacingAndGlyphs">−0.4</text>
<line x1="393.1" y1="581.78" x2="395.5" y2="581.78" stroke="#6a6a6a" stroke-width="0.8" />
<line x1="393.1" y1="576.72" x2="395.5" y2="576.72" stroke="#6a6a6a" stroke-width="0.8" />
<line x1="393.1" y1="571.66" x2="395.5" y2="571.66" stroke="#6a6a6a" stroke-width="0.8" />
<line x1="391" y1="566.6" x2="395.5" y2="566.6" stroke="#6a6a6a" stroke-width="1" />
<text x="386.7" y="569.55" font-size="8.2" text-anchor="end" fill="#2b2b2b" textLength="5.45" lengthAdjust="spacingAndGlyphs">0</text>
<line x1="393.1" y1="561.54" x2="395.5" y2="561.54" stroke="#6a6a6a" stroke-width="0.8" />
<line x1="393.1" y1="556.48" x2="395.5" y2="556.48" stroke="#6a6a6a" stroke-width="0.8" />
<line x1="393.1" y1="551.42" x2="395.5" y2="551.42" stroke="#6a6a6a" stroke-width="0.8" />
<line x1="391" y1="546.36" x2="395.5" y2="546.36" stroke="#6a6a6a" stroke-width="1" />
<text x="386.7" y="549.31" font-size="8.2" text-anchor="end" fill="#2b2b2b" textLength="12.4" lengthAdjust="spacingAndGlyphs">0.4</text>
<line x1="393.1" y1="541.3" x2="395.5" y2="541.3" stroke="#6a6a6a" stroke-width="0.8" />
<line x1="393.1" y1="536.24" x2="395.5" y2="536.24" stroke="#6a6a6a" stroke-width="0.8" />
<line x1="393.1" y1="531.18" x2="395.5" y2="531.18" stroke="#6a6a6a" stroke-width="0.8" />
<line x1="391" y1="526.12" x2="395.5" y2="526.12" stroke="#6a6a6a" stroke-width="1" />
<text x="386.7" y="529.07" font-size="8.2" text-anchor="end" fill="#2b2b2b" textLength="12.4" lengthAdjust="spacingAndGlyphs">0.8</text>
<line x1="393.1" y1="521.06" x2="395.5" y2="521.06" stroke="#6a6a6a" stroke-width="0.8" />
<line x1="393.1" y1="516" x2="395.5" y2="516" stroke="#6a6a6a" stroke-width="0.8" />
<line x1="393.1" y1="510.94" x2="395.5" y2="510.94" stroke="#6a6a6a" stroke-width="0.8" />
<line x1="391" y1="505.88" x2="395.5" y2="505.88" stroke="#6a6a6a" stroke-width="1" />
<text x="386.7" y="508.83" font-size="8.2" text-anchor="end" fill="#2b2b2b" textLength="10.85" lengthAdjust="spacingAndGlyphs">1.2</text>
<line x1="393.1" y1="500.82" x2="395.5" y2="500.82" stroke="#6a6a6a" stroke-width="0.8" />
<line x1="393.1" y1="495.76" x2="395.5" y2="495.76" stroke="#6a6a6a" stroke-width="0.8" />
<line x1="393.1" y1="490.7" x2="395.5" y2="490.7" stroke="#6a6a6a" stroke-width="0.8" />
<line x1="391" y1="485.64" x2="395.5" y2="485.64" stroke="#6a6a6a" stroke-width="1" />
<text x="386.7" y="488.59" font-size="8.2" text-anchor="end" fill="#2b2b2b" textLength="10.85" lengthAdjust="spacingAndGlyphs">1.6</text>
<line x1="393.1" y1="480.58" x2="395.5" y2="480.58" stroke="#6a6a6a" stroke-width="0.8" />
<line x1="395.5" y1="657.5" x2="395.5" y2="661.7" stroke="#6a6a6a" stroke-width="1" />
<text x="395.5" y="673.5" font-size="8.2" text-anchor="middle" fill="#2b2b2b" textLength="17" lengthAdjust="spacingAndGlyphs">−2.8</text>
<line x1="411.15" y1="657.5" x2="411.15" y2="659.9" stroke="#6a6a6a" stroke-width="0.8" />
<line x1="426.8" y1="657.5" x2="426.8" y2="661.7" stroke="#6a6a6a" stroke-width="1" />
<text x="426.8" y="673.5" font-size="8.2" text-anchor="middle" fill="#2b2b2b" textLength="17" lengthAdjust="spacingAndGlyphs">−2.6</text>
<line x1="442.45" y1="657.5" x2="442.45" y2="659.9" stroke="#6a6a6a" stroke-width="0.8" />
<line x1="458.1" y1="657.5" x2="458.1" y2="661.7" stroke="#6a6a6a" stroke-width="1" />
<text x="458.1" y="673.5" font-size="8.2" text-anchor="middle" fill="#2b2b2b" textLength="17" lengthAdjust="spacingAndGlyphs">−2.4</text>
<line x1="473.75" y1="657.5" x2="473.75" y2="659.9" stroke="#6a6a6a" stroke-width="0.8" />
<line x1="489.4" y1="657.5" x2="489.4" y2="661.7" stroke="#6a6a6a" stroke-width="1" />
<text x="489.4" y="673.5" font-size="8.2" text-anchor="middle" fill="#2b2b2b" textLength="17" lengthAdjust="spacingAndGlyphs">−2.2</text>
<line x1="505.05" y1="657.5" x2="505.05" y2="659.9" stroke="#6a6a6a" stroke-width="0.8" />
<line x1="520.7" y1="657.5" x2="520.7" y2="661.7" stroke="#6a6a6a" stroke-width="1" />
<text x="520.7" y="673.5" font-size="8.2" text-anchor="middle" fill="#2b2b2b" textLength="17" lengthAdjust="spacingAndGlyphs">−2.0</text>
<line x1="536.35" y1="657.5" x2="536.35" y2="659.9" stroke="#6a6a6a" stroke-width="0.8" />
<line x1="552" y1="657.5" x2="552" y2="661.7" stroke="#6a6a6a" stroke-width="1" />
<text x="552" y="673.5" font-size="8.2" text-anchor="middle" fill="#2b2b2b" textLength="15.45" lengthAdjust="spacingAndGlyphs">−1.8</text>
<line x1="567.65" y1="657.5" x2="567.65" y2="659.9" stroke="#6a6a6a" stroke-width="0.8" />
<line x1="583.3" y1="657.5" x2="583.3" y2="661.7" stroke="#6a6a6a" stroke-width="1" />
<text x="583.3" y="673.5" font-size="8.2" text-anchor="middle" fill="#2b2b2b" textLength="15.45" lengthAdjust="spacingAndGlyphs">−1.6</text>
<line x1="598.95" y1="657.5" x2="598.95" y2="659.9" stroke="#6a6a6a" stroke-width="0.8" />
<line x1="614.6" y1="657.5" x2="614.6" y2="661.7" stroke="#6a6a6a" stroke-width="1" />
<text x="614.6" y="673.5" font-size="8.2" text-anchor="middle" fill="#2b2b2b" textLength="15.45" lengthAdjust="spacingAndGlyphs">−1.4</text>
<line x1="630.25" y1="657.5" x2="630.25" y2="659.9" stroke="#6a6a6a" stroke-width="0.8" />
<line x1="645.9" y1="657.5" x2="645.9" y2="661.7" stroke="#6a6a6a" stroke-width="1" />
<text x="645.9" y="673.5" font-size="8.2" text-anchor="middle" fill="#2b2b2b" textLength="15.45" lengthAdjust="spacingAndGlyphs">−1.2</text>
<line x1="661.55" y1="657.5" x2="661.55" y2="659.9" stroke="#6a6a6a" stroke-width="0.8" />
<line x1="677.2" y1="657.5" x2="677.2" y2="661.7" stroke="#6a6a6a" stroke-width="1" />
<text x="677.2" y="673.5" font-size="8.2" text-anchor="middle" fill="#2b2b2b" textLength="15.45" lengthAdjust="spacingAndGlyphs">−1.0</text>
<text x="536.5" y="689.9" font-size="10.3" text-anchor="middle" fill="#2b2b2b"><tspan font-style="italic">E</tspan> (V vs Fc)</text>
<text transform="translate(358.8,567.4) rotate(-90)" font-size="10.3" text-anchor="middle" fill="#2b2b2b" textLength="51.6" lengthAdjust="spacingAndGlyphs"><tspan font-style="italic">j</tspan> (μA cm<tspan font-size="6.5" dy="-3.5">−2</tspan><tspan dy="3.5">)</tspan></text>
<text x="351.3" y="475.8" font-size="14" text-anchor="start" fill="#000" font-weight="bold" >f</text>
<line x1="405.1" y1="484.6" x2="414" y2="484.6" stroke="#4a7ec4" stroke-width="1.3" />
<text x="419.2" y="487.5" font-size="8.4" text-anchor="start" fill="#2b2b2b" textLength="132.2" lengthAdjust="spacingAndGlyphs">4-(1-methylcyclohexyl)phthalonitrile</text>
<line x1="405.1" y1="496.05" x2="414" y2="496.05" stroke="#3f3f3f" stroke-width="1.3" />
<text x="419.2" y="498.95" font-size="8.4" text-anchor="start" fill="#2b2b2b" textLength="48.5" lengthAdjust="spacingAndGlyphs">Phthalonitrile</text>
<line x1="405.1" y1="507.5" x2="414" y2="507.5" stroke="#3caf6a" stroke-width="1.3" />
<text x="419.2" y="510.4" font-size="8.4" text-anchor="start" fill="#2b2b2b" textLength="14" lengthAdjust="spacingAndGlyphs">RAE</text>
<path d="M415.2,547.8 L425.4,542.2 L435.5,547.6 L435.5,560.3 L425.4,566 L415.2,560.3 Z" fill="none" stroke="#4a7ec4" stroke-width="0.75" stroke-linejoin="round"/>
<path d="M435.5,547.6 L435.5,536.7" fill="none" stroke="#4a7ec4" stroke-width="0.75" stroke-linejoin="round"/>
<path d="M435.5,547.6 L445.7,542.2" fill="none" stroke="#4a7ec4" stroke-width="0.75" stroke-linejoin="round"/>
<path d="M445.7,542.2 L445.7,530.8 L456,524.6 L466.2,530.8 L466.2,542.2 L456,547.8 Z" fill="none" stroke="#4a7ec4" stroke-width="0.75" stroke-linejoin="round"/>
<path d="M447.3,532.3 L447.3,540.7" fill="none" stroke="#4a7ec4" stroke-width="0.75" stroke-linejoin="round"/>
<path d="M456.2,526.6 L464.3,531.5" fill="none" stroke="#4a7ec4" stroke-width="0.75" stroke-linejoin="round"/>
<path d="M464.3,541.5 L456.2,546" fill="none" stroke="#4a7ec4" stroke-width="0.75" stroke-linejoin="round"/>
<path d="M466.2,530.8 L474.3,526.4" fill="none" stroke="#4a7ec4" stroke-width="0.75" stroke-linejoin="round"/>
<path d="M466.2,542.2 L474.3,546.6" fill="none" stroke="#4a7ec4" stroke-width="0.75" stroke-linejoin="round"/>
<text x="474.8" y="527.8" font-size="6.4" fill="#4a7ec4" textLength="8.2" lengthAdjust="spacingAndGlyphs">CN</text>
<text x="474.8" y="551.3" font-size="6.4" fill="#4a7ec4" textLength="8.2" lengthAdjust="spacingAndGlyphs">CN</text>
<path d="M572.2,511.7 L582.8,506.1 L593.3,511.7 L593.3,523.9 L582.8,529.8 L572.2,523.9 Z" fill="none" stroke="#555555" stroke-width="0.75" stroke-linejoin="round"/>
<path d="M574,513.4 L574,522.3" fill="none" stroke="#555555" stroke-width="0.75" stroke-linejoin="round"/>
<path d="M583.6,508.2 L591.5,512.4" fill="none" stroke="#555555" stroke-width="0.75" stroke-linejoin="round"/>
<path d="M591.5,523.1 L583.6,527.6" fill="none" stroke="#555555" stroke-width="0.75" stroke-linejoin="round"/>
<path d="M593.3,511.7 L600.6,508.2" fill="none" stroke="#555555" stroke-width="0.75" stroke-linejoin="round"/>
<path d="M593.3,523.9 L600.6,528" fill="none" stroke="#555555" stroke-width="0.75" stroke-linejoin="round"/>
<text x="601.0" y="509.6" font-size="6.4" fill="#555555" textLength="9.0" lengthAdjust="spacingAndGlyphs">CN</text>
<text x="601.0" y="533.2" font-size="6.4" fill="#555555" textLength="9.0" lengthAdjust="spacingAndGlyphs">CN</text>
<path d="M539.4,627.7 L549.6,621.8 L560.1,627.7 L560.1,639.6 L549.6,645.5 L539.4,639.6 Z" fill="none" stroke="#3caf6a" stroke-width="0.75" stroke-linejoin="round"/>
<path d="M560.1,627.7 L560.1,616.3" fill="none" stroke="#3caf6a" stroke-width="0.75" stroke-linejoin="round"/>
<path d="M560.1,627.7 L570,621.8" fill="none" stroke="#3caf6a" stroke-width="0.75" stroke-linejoin="round"/>
<path d="M569.3,621.8 L569.3,612.6" fill="none" stroke="#3caf6a" stroke-width="0.75" stroke-linejoin="round"/>
<path d="M570.9,621.8 L570.9,612.6" fill="none" stroke="#3caf6a" stroke-width="0.75" stroke-linejoin="round"/>
<path d="M570,621.8 L577,625.6" fill="none" stroke="#3caf6a" stroke-width="0.75" stroke-linejoin="round"/>
<path d="M583.2,625.6 L587.5,623.6" fill="none" stroke="#3caf6a" stroke-width="0.75" stroke-linejoin="round"/>
<path d="M591.1,619.4 L592.1,609.7" fill="none" stroke="#3caf6a" stroke-width="0.75" stroke-linejoin="round"/>
<path d="M594,623.6 L601.7,626.2" fill="none" stroke="#3caf6a" stroke-width="0.75" stroke-linejoin="round"/>
<path d="M592.1,609.7 L603,607.6" fill="none" stroke="#3caf6a" stroke-width="0.75" stroke-linejoin="round"/>
<path d="M592.1,609.7 L585,604.6" fill="none" stroke="#3caf6a" stroke-width="0.75" stroke-linejoin="round"/>
<path d="M591.1,611 L584,605.9" fill="none" stroke="#3caf6a" stroke-width="0.75" stroke-linejoin="round"/>
<path d="M601.7,626.2 L608.7,617.6" fill="none" stroke="#3caf6a" stroke-width="0.75" stroke-linejoin="round"/>
<path d="M601.7,626.2 L603,634.6" fill="none" stroke="#3caf6a" stroke-width="0.75" stroke-linejoin="round"/>
<path d="M603.3,625.8 L604.6,634.2" fill="none" stroke="#3caf6a" stroke-width="0.75" stroke-linejoin="round"/>
<path d="M603,607.6 L608.7,597.3 L621,597.3 L626.7,607.3 L621,617.6 L608.7,617.6 Z" fill="none" stroke="#3caf6a" stroke-width="0.75" stroke-linejoin="round"/>
<path d="M610,599.3 L619.7,599.3" fill="none" stroke="#3caf6a" stroke-width="0.75" stroke-linejoin="round"/>
<path d="M624.5,607.4 L619.7,615.6" fill="none" stroke="#3caf6a" stroke-width="0.75" stroke-linejoin="round"/>
<path d="M605,607.8 L609.9,615.6" fill="none" stroke="#3caf6a" stroke-width="0.75" stroke-linejoin="round"/>
<text x="568" y="613.4" font-size="6.6" fill="#3caf6a">O</text>
<text x="580" y="605" font-size="6.6" fill="#3caf6a">O</text>
<text x="577.5" y="630.5" font-size="6.6" fill="#3caf6a">O</text>
<text x="587.9" y="624.6" font-size="6.6" fill="#3caf6a">N</text>
<text x="601" y="640.6" font-size="6.6" fill="#3caf6a">O</text>
</svg>
</body></html>
